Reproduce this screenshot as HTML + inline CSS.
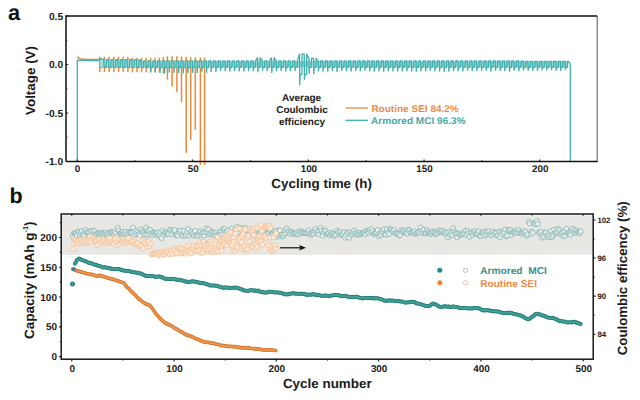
<!DOCTYPE html>
<html><head><meta charset="utf-8"><style>
html,body{margin:0;padding:0;background:#fff;width:640px;height:400px;overflow:hidden}
svg{display:block;text-rendering:geometricPrecision}
</style></head><body>
<svg width="640" height="400" viewBox="0 0 640 400"><path d="M77.3,56.6 L78.3,57.62 L79.3,58.27 L80.3,58.68 L81.3,58.95 L82.3,59.11 L83.3,59.22 L84.3,59.28 L85.3,59.33 L99.2,59.6 L99.75,61.3 L99.75,56.7 L99.75,72 L99.75,67.6 L102.08,67.6 L102.08,61.3 L104.4,61.3 L104.4,56.7 L104.4,72 L104.4,67.6 L106.75,67.6 L106.75,61.3 L109.1,61.3 L109.1,56.7 L109.1,72 L109.1,67.6 L111.45,67.6 L111.45,61.3 L113.8,61.3 L113.8,56.7 L113.8,72 L113.8,67.6 L116.15,67.6 L116.15,61.3 L118.5,61.3 L118.5,56.7 L118.5,72 L118.5,67.6 L120.85,67.6 L120.85,61.3 L123.2,61.3 L123.2,56.7 L123.2,72 L123.2,67.6 L125.55,67.6 L125.55,61.3 L127.9,61.3 L127.9,56.7 L127.9,72 L127.9,67.6 L130.15,67.6 L130.15,61.3 L132.4,61.3 L132.4,57.8 L132.4,72.3 L132.4,67.6 L134.7,67.6 L134.7,61.3 L137,61.3 L137,57.8 L137,72.3 L137,67.6 L139.3,67.6 L139.3,61.3 L141.6,61.3 L141.6,57.8 L141.6,72.3 L141.6,67.6 L143.85,67.6 L143.85,61.3 L146.1,61.3 L146.1,57.8 L146.1,72.3 L146.1,67.6 L148.35,67.6 L148.35,61.3 L150.6,61.3 L150.6,57.8 L150.6,72.3 L150.6,67.6 L152.8,67.6 L152.8,61.3 L155,61.3 L155,57.8 L155,72.3 L155,67.6 L157.2,67.6 L157.2,61.3 L159.4,61.3 L159.4,57.8 L159.4,72.3 L159.4,67.6 L161.4,67.6 L161.4,61.3 L163.4,61.3 L163.4,57 L163.4,73.8 L163.4,67.6 L165.4,67.6 L165.4,61.3 L167.4,61.3 L167.4,56.3 L167.4,79.6 L167.4,67.6 L169.75,67.6 L169.75,61.3 L172.1,61.3 L172.1,56.3 L172.1,86.4 L172.1,67.6 L174.5,67.6 L174.5,61.3 L176.9,61.3 L176.9,56.3 L176.9,92 L176.9,67.6 L179.2,67.6 L179.2,61.3 L181.5,61.3 L181.5,56.5 L181.5,102 L181.5,67.6 L183.85,67.6 L183.85,61.3 L186.2,61.3 L186.2,56.8 L186.2,152.8 L186.2,67.6 L188.45,67.6 L188.45,61.3 L190.7,61.3 L190.7,57.3 L190.7,140 L190.7,67.6 L193,67.6 L193,61.3 L195.3,61.3 L195.3,57.3 L195.3,129.8 L195.3,67.6 L197.85,67.6 L197.85,61.3 L200.4,61.3 L200.4,57.5 L200.4,165 L200.4,67.6 L202.5,67.6 L202.5,61.3 L204.6,61.3 L204.6,57.5 L204.6,165 L204.6,67.6" fill="none" stroke="#E8893C" stroke-width="1.5" stroke-linejoin="bevel"/>
<rect x="100" y="60" width="40" height="7.2" fill="#A2DDDA"/>
<rect x="140" y="60.9" width="428" height="6.5" fill="#92D7D4"/>
<path d="M77.3,161 L77.3,60.1 L99.5,60.6 L100,58.3 L101.7,59 L103.83,59.6 L104.03,67.39 L104.43,67.3 L106.16,67.3 L106.36,59.6 L108.49,59.6 L108.69,67.18 L109.09,67.3 L110.82,67.3 L111.02,59.6 L113.15,59.6 L113.35,67.78 L113.75,67.3 L115.48,67.3 L115.68,59.6 L117.81,59.6 L118.01,67.09 L118.41,67.3 L120.14,67.3 L120.34,59.6 L122.47,59.6 L122.67,67.64 L123.07,67.3 L124.8,67.3 L125,59.6 L127.13,59.6 L127.33,67.44 L127.73,67.3 L129.46,67.3 L129.66,59.6 L131.79,59.6 L131.99,67.07 L132.39,67.3 L134.12,67.3 L134.32,59.6 L136.45,59.6 L136.65,67.61 L137.05,67.3 L138.78,67.3 L138.98,59.6 L141.11,60.9 L141.31,67.04 L141.71,67.3 L143.44,67.3 L143.64,60.9 L145.77,60.9 L145.97,67.52 L146.37,67.3 L148.1,67.3 L148.3,60.9 L150.43,60.9 L150.63,72.48 L151.03,67.3 L152.76,67.3 L152.96,60.9 L155.09,60.9 L155.29,72.51 L155.69,67.3 L157.42,67.3 L157.62,60.9 L159.75,60.9 L159.95,72.91 L160.35,67.3 L162.08,67.3 L162.28,60.9 L164.41,60.9 L164.61,73.39 L165.01,67.3 L166.74,67.3 L166.94,60.9 L169.07,60.9 L169.27,72.55 L169.67,67.3 L171.4,67.3 L171.6,60.9 L173.73,60.9 L173.93,72.67 L174.33,67.3 L176.06,67.3 L176.26,60.9 L178.39,60.9 L178.59,73.15 L178.99,67.3 L180.72,67.3 L180.92,60.9 L183.05,60.9 L183.25,73.54 L183.65,67.3 L185.38,67.3 L185.58,60.9 L187.71,60.9 L187.91,73.09 L188.31,67.3 L190.04,67.3 L190.24,60.9 L192.37,60.9 L192.57,72.88 L192.97,67.3 L194.7,67.3 L194.9,60.9 L197.03,60.9 L197.23,72.87 L197.63,67.3 L199.36,67.3 L199.56,60.9 L201.69,60.9 L201.89,71.76 L202.29,67.3 L204.02,67.3 L204.22,60.9 L206.35,60.9 L206.55,72.73 L206.95,67.3 L208.68,67.3 L208.88,60.9 L211.01,60.9 L211.21,72.05 L211.61,67.3 L213.34,67.3 L213.54,60.9 L215.67,60.9 L215.87,71.87 L216.27,67.3 L218,67.3 L218.2,60.9 L220.33,60.9 L220.53,70.84 L220.93,67.3 L222.66,67.3 L222.86,60.9 L224.99,60.9 L225.19,71.07 L225.59,67.3 L227.32,67.3 L227.52,60.9 L229.65,60.9 L229.85,71.68 L230.25,67.3 L231.98,67.3 L232.18,60.9 L234.31,60.9 L234.51,70.92 L234.91,67.3 L236.64,67.3 L236.84,60.9 L238.97,60.9 L239.17,71.4 L239.57,67.3 L241.3,67.3 L241.5,60.9 L243.63,60.9 L243.83,71.47 L244.23,67.3 L245.96,67.3 L246.16,60.9 L248.29,60.9 L248.49,71.15 L248.89,67.3 L250.62,67.3 L250.82,60.9 L252.95,60.9 L253.15,71.36 L253.55,67.3 L255.28,67.3 L255.48,60.9 L257.61,57.5 L257.81,72.28 L258.21,67.3 L259.94,67.3 L260.14,57.5 L262.27,60.9 L262.47,70.77 L262.87,67.3 L264.6,67.3 L264.8,60.9 L266.93,60.9 L267.13,70.95 L267.53,67.3 L269.26,67.3 L269.46,60.9 L271.59,57.5 L271.79,73.02 L272.19,67.3 L273.92,67.3 L274.12,57.5 L276.25,60.9 L276.45,71.21 L276.85,67.3 L278.58,67.3 L278.78,60.9 L280.91,60.9 L281.11,71.08 L281.51,67.3 L283.24,67.3 L283.44,60.9 L285.57,60.9 L285.77,71.4 L286.17,67.3 L287.9,67.3 L288.1,60.9 L290.23,60.9 L290.43,71.24 L290.83,67.3 L292.56,67.3 L292.76,60.9 L294.89,60.9 L295.09,71.06 L295.49,67.3 L297.22,67.3 L297.42,60.9 L299.55,53.8 L299.75,85.35 L300.15,74.5 L301.88,74.5 L302.08,53.8 L304.21,53.8 L304.41,79.64 L304.81,74.5 L306.54,74.5 L306.74,53.8 L308.87,58.5 L309.07,73.69 L309.47,67.3 L311.2,67.3 L311.4,58.5 L313.53,58.5 L313.73,74.09 L314.13,67.3 L315.86,67.3 L316.06,58.5 L318.19,60.9 L318.39,71.33 L318.79,67.3 L320.52,67.3 L320.72,60.9 L322.85,60.9 L323.05,71.75 L323.45,67.3 L325.18,67.3 L325.38,60.9 L327.51,60.9 L327.71,71.58 L328.11,67.3 L329.84,67.3 L330.04,60.9 L332.17,60.9 L332.37,71.05 L332.77,67.3 L334.5,67.3 L334.7,60.9 L336.83,60.9 L337.03,71.88 L337.43,67.3 L339.16,67.3 L339.36,60.9 L341.49,60.9 L341.69,70.84 L342.09,67.3 L343.82,67.3 L344.02,60.9 L346.15,60.9 L346.35,71.2 L346.75,67.3 L348.48,67.3 L348.68,60.9 L350.81,60.9 L351.01,71.61 L351.41,67.3 L353.14,67.3 L353.34,60.9 L355.47,60.9 L355.67,70.88 L356.07,67.3 L357.8,67.3 L358,60.9 L360.13,60.9 L360.33,71.29 L360.73,67.3 L362.46,67.3 L362.66,60.9 L364.79,60.9 L364.99,70.75 L365.39,67.3 L367.12,67.3 L367.32,60.9 L369.45,60.9 L369.65,71.5 L370.05,67.3 L371.78,67.3 L371.98,60.9 L374.11,60.9 L374.31,71.62 L374.71,67.3 L376.44,67.3 L376.64,60.9 L378.77,60.9 L378.97,71.39 L379.37,67.3 L381.1,67.3 L381.3,60.9 L383.43,60.9 L383.63,71.75 L384.03,67.3 L385.76,67.3 L385.96,60.9 L388.09,60.9 L388.29,71.08 L388.69,67.3 L390.42,67.3 L390.62,60.9 L392.75,60.9 L392.95,71.53 L393.35,67.3 L395.08,67.3 L395.28,60.9 L397.41,60.9 L397.61,71.41 L398.01,67.3 L399.74,67.3 L399.94,60.9 L402.07,60.9 L402.27,71.4 L402.67,67.3 L404.4,67.3 L404.6,60.9 L406.73,60.9 L406.93,71.25 L407.33,67.3 L409.06,67.3 L409.26,60.9 L411.39,60.9 L411.59,71.71 L411.99,67.3 L413.72,67.3 L413.92,60.9 L416.05,60.9 L416.25,71.83 L416.65,67.3 L418.38,67.3 L418.58,60.9 L420.71,60.9 L420.91,71.27 L421.31,67.3 L423.04,67.3 L423.24,60.9 L425.37,60.9 L425.57,71.5 L425.97,67.3 L427.7,67.3 L427.9,60.9 L430.03,60.9 L430.23,70.77 L430.63,67.3 L432.36,67.3 L432.56,60.9 L434.69,60.9 L434.89,71.54 L435.29,67.3 L437.02,67.3 L437.22,60.9 L439.35,60.9 L439.55,71.48 L439.95,67.3 L441.68,67.3 L441.88,60.9 L444.01,60.9 L444.21,71.89 L444.61,67.3 L446.34,67.3 L446.54,60.9 L448.67,60.9 L448.87,71.69 L449.27,67.3 L451,67.3 L451.2,60.9 L453.33,60.9 L453.53,71.04 L453.93,67.3 L455.66,67.3 L455.86,60.9 L457.99,60.9 L458.19,71.16 L458.59,67.3 L460.32,67.3 L460.52,60.9 L462.65,60.9 L462.85,71.5 L463.25,67.3 L464.98,67.3 L465.18,60.9 L467.31,60.9 L467.51,70.73 L467.91,67.3 L469.64,67.3 L469.84,60.9 L471.97,60.9 L472.17,71.25 L472.57,67.3 L474.3,67.3 L474.5,60.9 L476.63,60.9 L476.83,70.9 L477.23,67.3 L478.96,67.3 L479.16,60.9 L481.29,60.9 L481.49,70.84 L481.89,67.3 L483.62,67.3 L483.82,60.9 L485.95,60.9 L486.15,70.77 L486.55,67.3 L488.28,67.3 L488.48,60.9 L490.61,60.9 L490.81,71.62 L491.21,67.3 L492.94,67.3 L493.14,60.9 L495.27,60.9 L495.47,70.86 L495.87,67.3 L497.6,67.3 L497.8,60.9 L499.93,60.9 L500.13,71 L500.53,67.3 L502.26,67.3 L502.46,60.9 L504.59,60.9 L504.79,71.17 L505.19,67.3 L506.92,67.3 L507.12,60.9 L509.25,60.9 L509.45,71.75 L509.85,67.3 L511.58,67.3 L511.78,60.9 L513.91,60.9 L514.11,70.8 L514.51,67.3 L516.24,67.3 L516.44,60.9 L518.57,60.9 L518.77,71.24 L519.17,67.3 L520.9,67.3 L521.1,60.9 L523.23,61.3 L523.43,70.46 L523.83,67.3 L525.56,67.3 L525.76,61.3 L527.89,61.3 L528.09,70.86 L528.49,67.3 L530.22,67.3 L530.42,61.3 L532.55,61.3 L532.75,70.78 L533.15,67.3 L534.88,67.3 L535.08,61.3 L537.21,61.3 L537.41,70.84 L537.81,67.3 L539.54,67.3 L539.74,61.3 L541.87,61.3 L542.07,70.13 L542.47,67.3 L544.2,67.3 L544.4,61.3 L546.53,61.3 L546.73,70.3 L547.13,67.3 L548.86,67.3 L549.06,61.3 L551.19,61.3 L551.39,70.23 L551.79,67.3 L553.52,67.3 L553.72,61.3 L555.85,61.3 L556.05,70.86 L556.45,67.3 L558.18,67.3 L558.38,61.3 L560.51,61.3 L560.71,70.95 L561.11,67.3 L562.84,67.3 L563.04,61.3 L565.17,61.3 L565.37,69.98 L565.77,67.3 L567.5,67.3 L567.7,61.3 L568.4,61.6 Q570.3,62.3 570.3,66 L570.3,161" fill="none" stroke="#40B0AE" stroke-width="1.3" stroke-linejoin="bevel"/>
<path d="M597.2,15.9 V161.6" stroke="#666" stroke-width="1.1"/>
<path d="M66.0,161.6 V15.9 H597.2 M66.0,161.6 H597.7" fill="none" stroke="#111" stroke-width="1.5"/>
<path d="M77.1,161.6 v-2.2 M192.75,161.6 v-2.2 M308.4,161.6 v-2.2 M424.05,161.6 v-2.2 M539.7,161.6 v-2.2 M134.93,161.6 v-1.3 M250.58,161.6 v-1.3 M366.23,161.6 v-1.3 M481.88,161.6 v-1.3 M66.0,16 h2.2 M66.0,64.5 h2.2 M66.0,113 h2.2 M66.0,161.5 h2.2 M66.0,40.25 h1.3 M66.0,88.75 h1.3 M66.0,137.25 h1.3" stroke="#1a1a1a" stroke-width="1.1"/>
<text x="63.1" y="19.5" font-family="Liberation Sans" font-weight="bold" font-size="10.2" text-anchor="end" fill="#1a1a1a">0.5</text>
<text x="63.1" y="68" font-family="Liberation Sans" font-weight="bold" font-size="10.2" text-anchor="end" fill="#1a1a1a">0.0</text>
<text x="63.1" y="116.5" font-family="Liberation Sans" font-weight="bold" font-size="10.2" text-anchor="end" fill="#1a1a1a">-0.5</text>
<text x="63.1" y="165" font-family="Liberation Sans" font-weight="bold" font-size="10.2" text-anchor="end" fill="#1a1a1a">-1.0</text>
<text x="77.6" y="172.1" font-family="Liberation Sans" font-weight="bold" font-size="9.8" text-anchor="middle" fill="#1a1a1a">0</text>
<text x="193.25" y="172.1" font-family="Liberation Sans" font-weight="bold" font-size="9.8" text-anchor="middle" fill="#1a1a1a">50</text>
<text x="308.9" y="172.1" font-family="Liberation Sans" font-weight="bold" font-size="9.8" text-anchor="middle" fill="#1a1a1a">100</text>
<text x="424.55" y="172.1" font-family="Liberation Sans" font-weight="bold" font-size="9.8" text-anchor="middle" fill="#1a1a1a">150</text>
<text x="540.2" y="172.1" font-family="Liberation Sans" font-weight="bold" font-size="9.8" text-anchor="middle" fill="#1a1a1a">200</text>
<text x="271.3" y="188" font-family="Liberation Sans" font-weight="bold" font-size="13.2" textLength="100.6" lengthAdjust="spacingAndGlyphs" fill="#1a1a1a">Cycling time (h)</text>
<text transform="translate(35,115) rotate(-90)" x="0" y="0" font-family="Liberation Sans" font-weight="bold" font-size="13.2" textLength="69" lengthAdjust="spacingAndGlyphs" fill="#1a1a1a">Voltage (V)</text>
<text x="8.0" y="19.8" font-family="Liberation Sans" font-weight="bold" font-size="21.8" fill="#111">a</text>
<text font-family="Liberation Sans" font-weight="bold" font-size="10" text-anchor="middle" fill="#1a1a1a"><tspan x="301.6" y="101.3">Average</tspan><tspan x="302" y="113.4">Coulombic</tspan><tspan x="302" y="125.2">efficiency</tspan></text>
<path d="M345.6,108 H368" stroke="#E8893C" stroke-width="1.3"/>
<path d="M345.6,120.3 H368" stroke="#3DB1B1" stroke-width="1.3"/>
<text x="371.4" y="111.5" font-family="Liberation Sans" font-weight="bold" font-size="9.7" textLength="87.4" lengthAdjust="spacingAndGlyphs" fill="#E98C48">Routine SEI 84.2%</text>
<text x="371.1" y="123.8" font-family="Liberation Sans" font-weight="bold" font-size="9.7" textLength="94.5" lengthAdjust="spacingAndGlyphs" fill="#45A9A7">Armored MCI 96.3%</text>
<rect x="61.800000000000004" y="215.4" width="530.8" height="39.40000000000001" fill="#E8E7E3"/>
<g fill="#E6F1EF" stroke="#84B0AE" stroke-width="0.75"><circle cx="72.77" cy="236.4" r="2.5"/><circle cx="73.79" cy="233.42" r="2.5"/><circle cx="74.81" cy="234.03" r="2.5"/><circle cx="75.83" cy="233.03" r="2.5"/><circle cx="76.85" cy="234.98" r="2.5"/><circle cx="77.87" cy="231.54" r="2.5"/><circle cx="78.89" cy="232.01" r="2.5"/><circle cx="79.91" cy="234.78" r="2.5"/><circle cx="80.93" cy="232.85" r="2.5"/><circle cx="81.95" cy="231.13" r="2.5"/><circle cx="82.97" cy="234.6" r="2.5"/><circle cx="83.99" cy="235.58" r="2.5"/><circle cx="85.01" cy="231.95" r="2.5"/><circle cx="86.03" cy="230.18" r="2.5"/><circle cx="87.05" cy="232.54" r="2.5"/><circle cx="88.07" cy="232.52" r="2.5"/><circle cx="89.09" cy="232.23" r="2.5"/><circle cx="90.11" cy="235.47" r="2.5"/><circle cx="91.13" cy="230.85" r="2.5"/><circle cx="92.15" cy="235.2" r="2.5"/><circle cx="93.17" cy="230.39" r="2.5"/><circle cx="94.19" cy="231.3" r="2.5"/><circle cx="95.21" cy="234" r="2.5"/><circle cx="96.23" cy="234.94" r="2.5"/><circle cx="97.25" cy="234.43" r="2.5"/><circle cx="98.27" cy="233.46" r="2.5"/><circle cx="99.29" cy="233.07" r="2.5"/><circle cx="100.31" cy="233.09" r="2.5"/><circle cx="101.33" cy="233.89" r="2.5"/><circle cx="102.35" cy="232.47" r="2.5"/><circle cx="103.37" cy="233.33" r="2.5"/><circle cx="104.39" cy="233.89" r="2.5"/><circle cx="105.41" cy="232.8" r="2.5"/><circle cx="106.43" cy="234.25" r="2.5"/><circle cx="107.45" cy="233.88" r="2.5"/><circle cx="108.47" cy="236.62" r="2.5"/><circle cx="109.49" cy="233.42" r="2.5"/><circle cx="110.51" cy="231.99" r="2.5"/><circle cx="111.53" cy="232.09" r="2.5"/><circle cx="112.55" cy="232.78" r="2.5"/><circle cx="113.57" cy="234.56" r="2.5"/><circle cx="114.59" cy="232.16" r="2.5"/><circle cx="115.61" cy="233.53" r="2.5"/><circle cx="116.63" cy="236.29" r="2.5"/><circle cx="117.65" cy="227.93" r="2.5"/><circle cx="118.67" cy="230.66" r="2.5"/><circle cx="119.69" cy="233.26" r="2.5"/><circle cx="120.71" cy="233.56" r="2.5"/><circle cx="121.73" cy="233.25" r="2.5"/><circle cx="122.75" cy="231.98" r="2.5"/><circle cx="123.77" cy="234.04" r="2.5"/><circle cx="124.79" cy="233.34" r="2.5"/><circle cx="125.81" cy="231.81" r="2.5"/><circle cx="126.83" cy="237.42" r="2.5"/><circle cx="127.85" cy="233.47" r="2.5"/><circle cx="128.87" cy="231.75" r="2.5"/><circle cx="129.89" cy="232.61" r="2.5"/><circle cx="130.91" cy="232.37" r="2.5"/><circle cx="131.93" cy="232.68" r="2.5"/><circle cx="132.95" cy="227.62" r="2.5"/><circle cx="133.97" cy="231.87" r="2.5"/><circle cx="134.99" cy="234.72" r="2.5"/><circle cx="136.01" cy="230.58" r="2.5"/><circle cx="137.03" cy="232.67" r="2.5"/><circle cx="138.05" cy="234.61" r="2.5"/><circle cx="139.07" cy="234.43" r="2.5"/><circle cx="140.09" cy="235.63" r="2.5"/><circle cx="141.11" cy="229.57" r="2.5"/><circle cx="142.13" cy="232.13" r="2.5"/><circle cx="143.15" cy="232.15" r="2.5"/><circle cx="144.17" cy="233.98" r="2.5"/><circle cx="145.19" cy="234.87" r="2.5"/><circle cx="146.21" cy="227.7" r="2.5"/><circle cx="147.23" cy="234.87" r="2.5"/><circle cx="148.25" cy="230.05" r="2.5"/><circle cx="149.27" cy="234.1" r="2.5"/><circle cx="150.29" cy="229.96" r="2.5"/><circle cx="151.31" cy="233.13" r="2.5"/><circle cx="152.33" cy="235.07" r="2.5"/><circle cx="153.35" cy="232.52" r="2.5"/><circle cx="154.37" cy="233.16" r="2.5"/><circle cx="155.39" cy="234.31" r="2.5"/><circle cx="156.41" cy="233.07" r="2.5"/><circle cx="157.43" cy="232.63" r="2.5"/><circle cx="158.45" cy="235.71" r="2.5"/><circle cx="159.47" cy="234.79" r="2.5"/><circle cx="160.49" cy="232.24" r="2.5"/><circle cx="161.51" cy="238.02" r="2.5"/><circle cx="162.53" cy="230.62" r="2.5"/><circle cx="163.55" cy="234.54" r="2.5"/><circle cx="164.57" cy="232.3" r="2.5"/><circle cx="165.59" cy="233.05" r="2.5"/><circle cx="166.61" cy="234.14" r="2.5"/><circle cx="167.63" cy="233.22" r="2.5"/><circle cx="168.65" cy="234.01" r="2.5"/><circle cx="169.67" cy="229.9" r="2.5"/><circle cx="170.69" cy="229.93" r="2.5"/><circle cx="171.71" cy="233.97" r="2.5"/><circle cx="172.73" cy="230.97" r="2.5"/><circle cx="173.75" cy="230.85" r="2.5"/><circle cx="174.77" cy="230.01" r="2.5"/><circle cx="175.79" cy="235.21" r="2.5"/><circle cx="176.81" cy="234.22" r="2.5"/><circle cx="177.83" cy="235.6" r="2.5"/><circle cx="178.85" cy="231.02" r="2.5"/><circle cx="179.87" cy="232.8" r="2.5"/><circle cx="180.89" cy="230.63" r="2.5"/><circle cx="181.91" cy="234.26" r="2.5"/><circle cx="182.93" cy="235.82" r="2.5"/><circle cx="183.95" cy="231.11" r="2.5"/><circle cx="184.97" cy="235.76" r="2.5"/><circle cx="185.99" cy="234.68" r="2.5"/><circle cx="187.01" cy="232.46" r="2.5"/><circle cx="188.03" cy="229.05" r="2.5"/><circle cx="189.05" cy="235.47" r="2.5"/><circle cx="190.07" cy="232.62" r="2.5"/><circle cx="191.09" cy="231.65" r="2.5"/><circle cx="192.11" cy="233.56" r="2.5"/><circle cx="193.13" cy="233.58" r="2.5"/><circle cx="194.15" cy="235.65" r="2.5"/><circle cx="195.17" cy="230.86" r="2.5"/><circle cx="196.19" cy="234.96" r="2.5"/><circle cx="197.21" cy="235.63" r="2.5"/><circle cx="198.23" cy="235.56" r="2.5"/><circle cx="199.25" cy="232.46" r="2.5"/><circle cx="200.27" cy="231.39" r="2.5"/><circle cx="201.29" cy="234.74" r="2.5"/><circle cx="202.31" cy="233.02" r="2.5"/><circle cx="203.33" cy="233.04" r="2.5"/><circle cx="204.35" cy="235.51" r="2.5"/><circle cx="205.37" cy="232.3" r="2.5"/><circle cx="206.39" cy="228.44" r="2.5"/><circle cx="207.41" cy="232.06" r="2.5"/><circle cx="208.43" cy="229.28" r="2.5"/><circle cx="209.45" cy="234.36" r="2.5"/><circle cx="210.47" cy="233.4" r="2.5"/><circle cx="211.49" cy="231.64" r="2.5"/><circle cx="212.51" cy="232.78" r="2.5"/><circle cx="213.53" cy="234.38" r="2.5"/><circle cx="214.55" cy="232.95" r="2.5"/><circle cx="215.57" cy="235.32" r="2.5"/><circle cx="216.59" cy="232.68" r="2.5"/><circle cx="217.61" cy="234.78" r="2.5"/><circle cx="218.63" cy="235.63" r="2.5"/><circle cx="219.65" cy="235.86" r="2.5"/><circle cx="220.67" cy="231.52" r="2.5"/><circle cx="221.69" cy="234.47" r="2.5"/><circle cx="222.71" cy="229.24" r="2.5"/><circle cx="223.73" cy="230.74" r="2.5"/><circle cx="224.75" cy="229.07" r="2.5"/><circle cx="225.77" cy="231.86" r="2.5"/><circle cx="226.79" cy="231.47" r="2.5"/><circle cx="227.81" cy="230.8" r="2.5"/><circle cx="228.83" cy="235.11" r="2.5"/><circle cx="229.85" cy="232.73" r="2.5"/><circle cx="230.87" cy="233.38" r="2.5"/><circle cx="231.89" cy="228.52" r="2.5"/><circle cx="232.91" cy="231.21" r="2.5"/><circle cx="233.93" cy="232.28" r="2.5"/><circle cx="234.95" cy="233.32" r="2.5"/><circle cx="235.97" cy="233.6" r="2.5"/><circle cx="236.99" cy="227.06" r="2.5"/><circle cx="238.01" cy="232.06" r="2.5"/><circle cx="239.03" cy="229.28" r="2.5"/><circle cx="240.05" cy="227.88" r="2.5"/><circle cx="241.07" cy="229.69" r="2.5"/><circle cx="242.09" cy="228.72" r="2.5"/><circle cx="243.11" cy="231.4" r="2.5"/><circle cx="244.13" cy="229.27" r="2.5"/><circle cx="245.15" cy="227.71" r="2.5"/><circle cx="246.17" cy="230.6" r="2.5"/><circle cx="247.19" cy="232.18" r="2.5"/><circle cx="248.21" cy="234.29" r="2.5"/><circle cx="249.23" cy="234.55" r="2.5"/><circle cx="250.25" cy="233.78" r="2.5"/><circle cx="251.27" cy="229.27" r="2.5"/><circle cx="252.29" cy="233.81" r="2.5"/><circle cx="253.31" cy="234.01" r="2.5"/><circle cx="254.33" cy="229.21" r="2.5"/><circle cx="255.35" cy="234.92" r="2.5"/><circle cx="256.37" cy="236.13" r="2.5"/><circle cx="257.39" cy="232.47" r="2.5"/><circle cx="258.41" cy="232.07" r="2.5"/><circle cx="259.43" cy="232.1" r="2.5"/><circle cx="260.45" cy="233.31" r="2.5"/><circle cx="261.47" cy="229.8" r="2.5"/><circle cx="262.49" cy="232.54" r="2.5"/><circle cx="263.51" cy="230.63" r="2.5"/><circle cx="264.53" cy="234.47" r="2.5"/><circle cx="265.55" cy="234.99" r="2.5"/><circle cx="266.57" cy="227.87" r="2.5"/><circle cx="267.59" cy="235.41" r="2.5"/><circle cx="268.61" cy="232.5" r="2.5"/><circle cx="269.63" cy="229.68" r="2.5"/><circle cx="270.65" cy="234.28" r="2.5"/><circle cx="271.67" cy="232.59" r="2.5"/><circle cx="272.69" cy="232.99" r="2.5"/><circle cx="273.71" cy="231" r="2.5"/><circle cx="274.73" cy="231.51" r="2.5"/><circle cx="275.75" cy="230.95" r="2.5"/><circle cx="276.77" cy="236.83" r="2.5"/><circle cx="277.79" cy="234.77" r="2.5"/><circle cx="278.81" cy="230.53" r="2.5"/><circle cx="279.83" cy="230.24" r="2.5"/><circle cx="280.85" cy="236.04" r="2.5"/><circle cx="281.87" cy="234.68" r="2.5"/><circle cx="282.89" cy="236.26" r="2.5"/><circle cx="283.91" cy="234.34" r="2.5"/><circle cx="284.93" cy="231.14" r="2.5"/><circle cx="285.95" cy="233.3" r="2.5"/><circle cx="286.97" cy="228.7" r="2.5"/><circle cx="287.99" cy="231.38" r="2.5"/><circle cx="289.01" cy="232.69" r="2.5"/><circle cx="290.03" cy="233.79" r="2.5"/><circle cx="291.05" cy="231.42" r="2.5"/><circle cx="292.07" cy="232.56" r="2.5"/><circle cx="293.09" cy="233.67" r="2.5"/><circle cx="294.11" cy="233.52" r="2.5"/><circle cx="295.13" cy="234.01" r="2.5"/><circle cx="296.15" cy="233.2" r="2.5"/><circle cx="297.17" cy="232.18" r="2.5"/><circle cx="298.19" cy="234.3" r="2.5"/><circle cx="299.21" cy="232.89" r="2.5"/><circle cx="300.23" cy="231.23" r="2.5"/><circle cx="301.25" cy="231.61" r="2.5"/><circle cx="302.27" cy="232.8" r="2.5"/><circle cx="303.29" cy="232.59" r="2.5"/><circle cx="304.31" cy="233.1" r="2.5"/><circle cx="305.33" cy="232.8" r="2.5"/><circle cx="306.35" cy="233.13" r="2.5"/><circle cx="307.37" cy="232.54" r="2.5"/><circle cx="308.39" cy="230.41" r="2.5"/><circle cx="309.41" cy="233.6" r="2.5"/><circle cx="310.43" cy="234.8" r="2.5"/><circle cx="311.45" cy="233.63" r="2.5"/><circle cx="312.47" cy="232.44" r="2.5"/><circle cx="313.49" cy="233.65" r="2.5"/><circle cx="314.51" cy="230.97" r="2.5"/><circle cx="315.53" cy="229.2" r="2.5"/><circle cx="316.55" cy="232.91" r="2.5"/><circle cx="317.57" cy="231.03" r="2.5"/><circle cx="318.59" cy="234.21" r="2.5"/><circle cx="319.61" cy="230.74" r="2.5"/><circle cx="320.63" cy="227.81" r="2.5"/><circle cx="321.65" cy="230.82" r="2.5"/><circle cx="322.67" cy="235.8" r="2.5"/><circle cx="323.69" cy="232.07" r="2.5"/><circle cx="324.71" cy="230.2" r="2.5"/><circle cx="325.73" cy="231.35" r="2.5"/><circle cx="326.75" cy="233.79" r="2.5"/><circle cx="327.77" cy="233.74" r="2.5"/><circle cx="328.79" cy="233.14" r="2.5"/><circle cx="329.81" cy="235.62" r="2.5"/><circle cx="330.83" cy="234.14" r="2.5"/><circle cx="331.85" cy="232.76" r="2.5"/><circle cx="332.87" cy="233.93" r="2.5"/><circle cx="333.89" cy="235.94" r="2.5"/><circle cx="334.91" cy="234.65" r="2.5"/><circle cx="335.93" cy="234.75" r="2.5"/><circle cx="336.95" cy="230.74" r="2.5"/><circle cx="337.97" cy="232.52" r="2.5"/><circle cx="338.99" cy="234.19" r="2.5"/><circle cx="340.01" cy="232.24" r="2.5"/><circle cx="341.03" cy="234.83" r="2.5"/><circle cx="342.05" cy="233.93" r="2.5"/><circle cx="343.07" cy="234.53" r="2.5"/><circle cx="344.09" cy="232.4" r="2.5"/><circle cx="345.11" cy="237.64" r="2.5"/><circle cx="346.13" cy="235.16" r="2.5"/><circle cx="347.15" cy="232.39" r="2.5"/><circle cx="348.17" cy="232.97" r="2.5"/><circle cx="349.19" cy="237.73" r="2.5"/><circle cx="350.21" cy="232.15" r="2.5"/><circle cx="351.23" cy="234.46" r="2.5"/><circle cx="352.25" cy="234.66" r="2.5"/><circle cx="353.27" cy="232.81" r="2.5"/><circle cx="354.29" cy="230.58" r="2.5"/><circle cx="355.31" cy="233.16" r="2.5"/><circle cx="356.33" cy="233.48" r="2.5"/><circle cx="357.35" cy="234.95" r="2.5"/><circle cx="358.37" cy="234.29" r="2.5"/><circle cx="359.39" cy="232.85" r="2.5"/><circle cx="360.41" cy="234.42" r="2.5"/><circle cx="361.43" cy="233.83" r="2.5"/><circle cx="362.45" cy="233.19" r="2.5"/><circle cx="363.47" cy="232.9" r="2.5"/><circle cx="364.49" cy="232.34" r="2.5"/><circle cx="365.51" cy="234.1" r="2.5"/><circle cx="366.53" cy="230.8" r="2.5"/><circle cx="367.55" cy="231.61" r="2.5"/><circle cx="368.57" cy="232.81" r="2.5"/><circle cx="369.59" cy="230.02" r="2.5"/><circle cx="370.61" cy="231.97" r="2.5"/><circle cx="371.63" cy="228.98" r="2.5"/><circle cx="372.65" cy="231.5" r="2.5"/><circle cx="373.67" cy="233.88" r="2.5"/><circle cx="374.69" cy="233.88" r="2.5"/><circle cx="375.71" cy="232.7" r="2.5"/><circle cx="376.73" cy="232.36" r="2.5"/><circle cx="377.75" cy="230.11" r="2.5"/><circle cx="378.77" cy="236.27" r="2.5"/><circle cx="379.79" cy="233.78" r="2.5"/><circle cx="380.81" cy="234.88" r="2.5"/><circle cx="381.83" cy="231.12" r="2.5"/><circle cx="382.85" cy="232.45" r="2.5"/><circle cx="383.87" cy="229.34" r="2.5"/><circle cx="384.89" cy="234.28" r="2.5"/><circle cx="385.91" cy="234.58" r="2.5"/><circle cx="386.93" cy="229.19" r="2.5"/><circle cx="387.95" cy="232.7" r="2.5"/><circle cx="388.97" cy="234" r="2.5"/><circle cx="389.99" cy="229.45" r="2.5"/><circle cx="391.01" cy="229.33" r="2.5"/><circle cx="392.03" cy="230.78" r="2.5"/><circle cx="393.05" cy="231.6" r="2.5"/><circle cx="394.07" cy="230.13" r="2.5"/><circle cx="395.09" cy="232.86" r="2.5"/><circle cx="396.11" cy="233.27" r="2.5"/><circle cx="397.13" cy="234" r="2.5"/><circle cx="398.15" cy="234.13" r="2.5"/><circle cx="399.17" cy="235.66" r="2.5"/><circle cx="400.19" cy="235.01" r="2.5"/><circle cx="401.21" cy="230.31" r="2.5"/><circle cx="402.23" cy="231.84" r="2.5"/><circle cx="403.25" cy="230.79" r="2.5"/><circle cx="404.27" cy="230.75" r="2.5"/><circle cx="405.29" cy="232.65" r="2.5"/><circle cx="406.31" cy="232.81" r="2.5"/><circle cx="407.33" cy="233.73" r="2.5"/><circle cx="408.35" cy="229.78" r="2.5"/><circle cx="409.37" cy="230.45" r="2.5"/><circle cx="410.39" cy="232.76" r="2.5"/><circle cx="411.41" cy="232.42" r="2.5"/><circle cx="412.43" cy="232.21" r="2.5"/><circle cx="413.45" cy="232.68" r="2.5"/><circle cx="414.47" cy="231.36" r="2.5"/><circle cx="415.49" cy="234.13" r="2.5"/><circle cx="416.51" cy="233.47" r="2.5"/><circle cx="417.53" cy="232.63" r="2.5"/><circle cx="418.55" cy="231.52" r="2.5"/><circle cx="419.57" cy="232.47" r="2.5"/><circle cx="420.59" cy="227.63" r="2.5"/><circle cx="421.61" cy="230.94" r="2.5"/><circle cx="422.63" cy="232.87" r="2.5"/><circle cx="423.65" cy="229.94" r="2.5"/><circle cx="424.67" cy="233.18" r="2.5"/><circle cx="425.69" cy="233.08" r="2.5"/><circle cx="426.71" cy="230.18" r="2.5"/><circle cx="427.73" cy="232.32" r="2.5"/><circle cx="428.75" cy="232.2" r="2.5"/><circle cx="429.77" cy="233.67" r="2.5"/><circle cx="430.79" cy="233.96" r="2.5"/><circle cx="431.81" cy="232.73" r="2.5"/><circle cx="432.83" cy="231.18" r="2.5"/><circle cx="433.85" cy="232.53" r="2.5"/><circle cx="434.87" cy="232.68" r="2.5"/><circle cx="435.89" cy="234.2" r="2.5"/><circle cx="436.91" cy="233.36" r="2.5"/><circle cx="437.93" cy="231.43" r="2.5"/><circle cx="438.95" cy="230.23" r="2.5"/><circle cx="439.97" cy="232.09" r="2.5"/><circle cx="440.99" cy="231.39" r="2.5"/><circle cx="442.01" cy="230.69" r="2.5"/><circle cx="443.03" cy="232.58" r="2.5"/><circle cx="444.05" cy="231.87" r="2.5"/><circle cx="445.07" cy="233" r="2.5"/><circle cx="446.09" cy="233.79" r="2.5"/><circle cx="447.11" cy="232.02" r="2.5"/><circle cx="448.13" cy="237.22" r="2.5"/><circle cx="449.15" cy="232.19" r="2.5"/><circle cx="450.17" cy="234.89" r="2.5"/><circle cx="451.19" cy="233.03" r="2.5"/><circle cx="452.21" cy="234.92" r="2.5"/><circle cx="453.23" cy="228.29" r="2.5"/><circle cx="454.25" cy="231.37" r="2.5"/><circle cx="455.27" cy="233.27" r="2.5"/><circle cx="456.29" cy="233.94" r="2.5"/><circle cx="457.31" cy="237.24" r="2.5"/><circle cx="458.33" cy="233.41" r="2.5"/><circle cx="459.35" cy="235.23" r="2.5"/><circle cx="460.37" cy="234.26" r="2.5"/><circle cx="461.39" cy="234.6" r="2.5"/><circle cx="462.41" cy="233.77" r="2.5"/><circle cx="463.43" cy="232.5" r="2.5"/><circle cx="464.45" cy="233.77" r="2.5"/><circle cx="465.47" cy="230.75" r="2.5"/><circle cx="466.49" cy="235.04" r="2.5"/><circle cx="467.51" cy="230.87" r="2.5"/><circle cx="468.53" cy="233.27" r="2.5"/><circle cx="469.55" cy="236.83" r="2.5"/><circle cx="470.57" cy="232.38" r="2.5"/><circle cx="471.59" cy="232.84" r="2.5"/><circle cx="472.61" cy="235.01" r="2.5"/><circle cx="473.63" cy="232.85" r="2.5"/><circle cx="474.65" cy="231.27" r="2.5"/><circle cx="475.67" cy="233.29" r="2.5"/><circle cx="476.69" cy="233.91" r="2.5"/><circle cx="477.71" cy="234.15" r="2.5"/><circle cx="478.73" cy="231.33" r="2.5"/><circle cx="479.75" cy="236.13" r="2.5"/><circle cx="480.77" cy="235.97" r="2.5"/><circle cx="481.79" cy="232.83" r="2.5"/><circle cx="482.81" cy="233.31" r="2.5"/><circle cx="483.83" cy="231.99" r="2.5"/><circle cx="484.85" cy="235.49" r="2.5"/><circle cx="485.87" cy="231.46" r="2.5"/><circle cx="486.89" cy="234.08" r="2.5"/><circle cx="487.91" cy="231.89" r="2.5"/><circle cx="488.93" cy="231.48" r="2.5"/><circle cx="489.95" cy="234.17" r="2.5"/><circle cx="490.97" cy="235.33" r="2.5"/><circle cx="491.99" cy="232.78" r="2.5"/><circle cx="493.01" cy="231.51" r="2.5"/><circle cx="494.03" cy="234.34" r="2.5"/><circle cx="495.05" cy="232.71" r="2.5"/><circle cx="496.07" cy="233.39" r="2.5"/><circle cx="497.09" cy="235.69" r="2.5"/><circle cx="498.11" cy="234.95" r="2.5"/><circle cx="499.13" cy="231.81" r="2.5"/><circle cx="500.15" cy="237.14" r="2.5"/><circle cx="501.17" cy="232.81" r="2.5"/><circle cx="502.19" cy="234.29" r="2.5"/><circle cx="503.21" cy="231.57" r="2.5"/><circle cx="504.23" cy="232.72" r="2.5"/><circle cx="505.25" cy="229.48" r="2.5"/><circle cx="506.27" cy="236.19" r="2.5"/><circle cx="507.29" cy="235.39" r="2.5"/><circle cx="508.31" cy="230.49" r="2.5"/><circle cx="509.33" cy="229.94" r="2.5"/><circle cx="510.35" cy="229.72" r="2.5"/><circle cx="511.37" cy="235.03" r="2.5"/><circle cx="512.39" cy="231.93" r="2.5"/><circle cx="513.41" cy="232.68" r="2.5"/><circle cx="514.43" cy="232.21" r="2.5"/><circle cx="515.45" cy="232.57" r="2.5"/><circle cx="516.47" cy="230.73" r="2.5"/><circle cx="517.49" cy="232.85" r="2.5"/><circle cx="518.51" cy="230.07" r="2.5"/><circle cx="519.53" cy="232.66" r="2.5"/><circle cx="520.55" cy="233.39" r="2.5"/><circle cx="521.57" cy="233.69" r="2.5"/><circle cx="522.59" cy="232.36" r="2.5"/><circle cx="523.61" cy="231.08" r="2.5"/><circle cx="524.63" cy="233.1" r="2.5"/><circle cx="525.65" cy="231.88" r="2.5"/><circle cx="526.67" cy="235.78" r="2.5"/><circle cx="527.69" cy="234.26" r="2.5"/><circle cx="528.71" cy="221.5" r="2.5"/><circle cx="529.73" cy="223.58" r="2.5"/><circle cx="530.75" cy="233.9" r="2.5"/><circle cx="531.77" cy="231.46" r="2.5"/><circle cx="532.79" cy="232.82" r="2.5"/><circle cx="533.81" cy="223.27" r="2.5"/><circle cx="534.83" cy="223.79" r="2.5"/><circle cx="535.85" cy="224.23" r="2.5"/><circle cx="536.87" cy="221.27" r="2.5"/><circle cx="537.89" cy="224" r="2.5"/><circle cx="538.91" cy="232.44" r="2.5"/><circle cx="539.93" cy="233.38" r="2.5"/><circle cx="540.95" cy="231.94" r="2.5"/><circle cx="541.97" cy="237.7" r="2.5"/><circle cx="542.99" cy="234.38" r="2.5"/><circle cx="544.01" cy="236.9" r="2.5"/><circle cx="545.03" cy="232.7" r="2.5"/><circle cx="546.05" cy="232.55" r="2.5"/><circle cx="547.07" cy="235.62" r="2.5"/><circle cx="548.09" cy="236.78" r="2.5"/><circle cx="549.11" cy="235.32" r="2.5"/><circle cx="550.13" cy="237.22" r="2.5"/><circle cx="551.15" cy="230.86" r="2.5"/><circle cx="552.17" cy="236.87" r="2.5"/><circle cx="553.19" cy="235.04" r="2.5"/><circle cx="554.21" cy="229.66" r="2.5"/><circle cx="555.23" cy="233.28" r="2.5"/><circle cx="556.25" cy="232.87" r="2.5"/><circle cx="557.27" cy="231.78" r="2.5"/><circle cx="558.29" cy="228.89" r="2.5"/><circle cx="559.31" cy="230.31" r="2.5"/><circle cx="560.33" cy="233.22" r="2.5"/><circle cx="561.35" cy="234.69" r="2.5"/><circle cx="562.37" cy="232.8" r="2.5"/><circle cx="563.39" cy="235.98" r="2.5"/><circle cx="564.41" cy="231.22" r="2.5"/><circle cx="565.43" cy="235.93" r="2.5"/><circle cx="566.45" cy="228.79" r="2.5"/><circle cx="567.47" cy="232.81" r="2.5"/><circle cx="568.49" cy="233.71" r="2.5"/><circle cx="569.51" cy="234.11" r="2.5"/><circle cx="570.53" cy="234.71" r="2.5"/><circle cx="571.55" cy="230.93" r="2.5"/><circle cx="572.57" cy="228.68" r="2.5"/><circle cx="573.59" cy="232.32" r="2.5"/><circle cx="574.61" cy="230.1" r="2.5"/><circle cx="575.63" cy="233" r="2.5"/><circle cx="576.65" cy="230.71" r="2.5"/><circle cx="577.67" cy="232.29" r="2.5"/><circle cx="578.69" cy="232.63" r="2.5"/><circle cx="579.71" cy="233.08" r="2.5"/><circle cx="580.73" cy="231.45" r="2.5"/></g>
<g fill="#FCE9D7" stroke="#F0C098" stroke-width="0.75"><circle cx="72.77" cy="249.5" r="2.5"/><circle cx="73.79" cy="243.07" r="2.5"/><circle cx="74.81" cy="239.55" r="2.5"/><circle cx="75.83" cy="240.49" r="2.5"/><circle cx="76.85" cy="241.69" r="2.5"/><circle cx="77.87" cy="240.77" r="2.5"/><circle cx="78.89" cy="243.36" r="2.5"/><circle cx="79.91" cy="240.52" r="2.5"/><circle cx="80.93" cy="239.97" r="2.5"/><circle cx="81.95" cy="242.78" r="2.5"/><circle cx="82.97" cy="241.74" r="2.5"/><circle cx="83.99" cy="239.25" r="2.5"/><circle cx="85.01" cy="239.91" r="2.5"/><circle cx="86.03" cy="241.2" r="2.5"/><circle cx="87.05" cy="243.21" r="2.5"/><circle cx="88.07" cy="242.32" r="2.5"/><circle cx="89.09" cy="240.9" r="2.5"/><circle cx="90.11" cy="236.39" r="2.5"/><circle cx="91.13" cy="241.91" r="2.5"/><circle cx="92.15" cy="238.5" r="2.5"/><circle cx="93.17" cy="237.86" r="2.5"/><circle cx="94.19" cy="239.5" r="2.5"/><circle cx="95.21" cy="241" r="2.5"/><circle cx="96.23" cy="240.88" r="2.5"/><circle cx="97.25" cy="245.38" r="2.5"/><circle cx="98.27" cy="240.37" r="2.5"/><circle cx="99.29" cy="239.32" r="2.5"/><circle cx="100.31" cy="242.89" r="2.5"/><circle cx="101.33" cy="241.09" r="2.5"/><circle cx="102.35" cy="239.94" r="2.5"/><circle cx="103.37" cy="239.13" r="2.5"/><circle cx="104.39" cy="240.68" r="2.5"/><circle cx="105.41" cy="243.47" r="2.5"/><circle cx="106.43" cy="241.95" r="2.5"/><circle cx="107.45" cy="240.22" r="2.5"/><circle cx="108.47" cy="242.4" r="2.5"/><circle cx="109.49" cy="241.15" r="2.5"/><circle cx="110.51" cy="238.41" r="2.5"/><circle cx="111.53" cy="242.11" r="2.5"/><circle cx="112.55" cy="241.83" r="2.5"/><circle cx="113.57" cy="243.85" r="2.5"/><circle cx="114.59" cy="240.65" r="2.5"/><circle cx="115.61" cy="238.67" r="2.5"/><circle cx="116.63" cy="242.12" r="2.5"/><circle cx="117.65" cy="245.38" r="2.5"/><circle cx="118.67" cy="239.54" r="2.5"/><circle cx="119.69" cy="243.89" r="2.5"/><circle cx="120.71" cy="240.95" r="2.5"/><circle cx="121.73" cy="242.06" r="2.5"/><circle cx="122.75" cy="240.9" r="2.5"/><circle cx="123.77" cy="239.3" r="2.5"/><circle cx="124.79" cy="242.81" r="2.5"/><circle cx="125.81" cy="240.17" r="2.5"/><circle cx="126.83" cy="241.29" r="2.5"/><circle cx="127.85" cy="241.98" r="2.5"/><circle cx="128.87" cy="238.49" r="2.5"/><circle cx="129.89" cy="242.13" r="2.5"/><circle cx="130.91" cy="241.76" r="2.5"/><circle cx="131.93" cy="240.48" r="2.5"/><circle cx="132.95" cy="241.75" r="2.5"/><circle cx="133.97" cy="243.99" r="2.5"/><circle cx="134.99" cy="244.26" r="2.5"/><circle cx="136.01" cy="242.79" r="2.5"/><circle cx="137.03" cy="243.77" r="2.5"/><circle cx="138.05" cy="243.26" r="2.5"/><circle cx="139.07" cy="239.15" r="2.5"/><circle cx="140.09" cy="246.05" r="2.5"/><circle cx="141.11" cy="245.78" r="2.5"/><circle cx="142.13" cy="240.5" r="2.5"/><circle cx="143.15" cy="248.33" r="2.5"/><circle cx="144.17" cy="242.92" r="2.5"/><circle cx="145.19" cy="242.3" r="2.5"/><circle cx="146.21" cy="244.29" r="2.5"/><circle cx="147.23" cy="246.5" r="2.5"/><circle cx="148.25" cy="241.51" r="2.5"/><circle cx="149.27" cy="246.33" r="2.5"/><circle cx="150.29" cy="243.68" r="2.5"/><circle cx="151.31" cy="254.5" r="2.5"/><circle cx="152.33" cy="254.33" r="2.5"/><circle cx="153.35" cy="254.07" r="2.5"/><circle cx="154.37" cy="253.49" r="2.5"/><circle cx="155.39" cy="252.84" r="2.5"/><circle cx="156.41" cy="253.43" r="2.5"/><circle cx="157.43" cy="253.48" r="2.5"/><circle cx="158.45" cy="255.28" r="2.5"/><circle cx="159.47" cy="252.39" r="2.5"/><circle cx="160.49" cy="255.19" r="2.5"/><circle cx="161.51" cy="252.31" r="2.5"/><circle cx="162.53" cy="252.71" r="2.5"/><circle cx="163.55" cy="254.43" r="2.5"/><circle cx="164.57" cy="254.35" r="2.5"/><circle cx="165.59" cy="252.56" r="2.5"/><circle cx="166.61" cy="250.68" r="2.5"/><circle cx="167.63" cy="252.46" r="2.5"/><circle cx="168.65" cy="251.83" r="2.5"/><circle cx="169.67" cy="254.42" r="2.5"/><circle cx="170.69" cy="250.59" r="2.5"/><circle cx="171.71" cy="251.32" r="2.5"/><circle cx="172.73" cy="254.1" r="2.5"/><circle cx="173.75" cy="249.11" r="2.5"/><circle cx="174.77" cy="251.12" r="2.5"/><circle cx="175.79" cy="253.38" r="2.5"/><circle cx="176.81" cy="253.01" r="2.5"/><circle cx="177.83" cy="248.34" r="2.5"/><circle cx="178.85" cy="248.09" r="2.5"/><circle cx="179.87" cy="248.06" r="2.5"/><circle cx="180.89" cy="253.69" r="2.5"/><circle cx="181.91" cy="249" r="2.5"/><circle cx="182.93" cy="252.32" r="2.5"/><circle cx="183.95" cy="253.33" r="2.5"/><circle cx="184.97" cy="249.09" r="2.5"/><circle cx="185.47" cy="253.7" r="2.5"/><circle cx="185.99" cy="251.05" r="2.5"/><circle cx="186.49" cy="251.8" r="2.5"/><circle cx="187.01" cy="248.59" r="2.5"/><circle cx="187.51" cy="246.16" r="2.5"/><circle cx="188.03" cy="251.91" r="2.5"/><circle cx="189.05" cy="250.84" r="2.5"/><circle cx="190.07" cy="245.53" r="2.5"/><circle cx="190.57" cy="249.32" r="2.5"/><circle cx="191.09" cy="253.3" r="2.5"/><circle cx="192.11" cy="248.07" r="2.5"/><circle cx="192.61" cy="248.46" r="2.5"/><circle cx="193.13" cy="248.81" r="2.5"/><circle cx="194.15" cy="245.59" r="2.5"/><circle cx="195.17" cy="250.82" r="2.5"/><circle cx="196.19" cy="251.03" r="2.5"/><circle cx="197.21" cy="246.17" r="2.5"/><circle cx="197.71" cy="246.54" r="2.5"/><circle cx="198.23" cy="250.86" r="2.5"/><circle cx="198.73" cy="244.48" r="2.5"/><circle cx="199.25" cy="250.4" r="2.5"/><circle cx="199.75" cy="242.68" r="2.5"/><circle cx="200.27" cy="241.97" r="2.5"/><circle cx="200.77" cy="245.33" r="2.5"/><circle cx="201.29" cy="252.82" r="2.5"/><circle cx="202.31" cy="252.84" r="2.5"/><circle cx="202.81" cy="241.85" r="2.5"/><circle cx="203.33" cy="241.65" r="2.5"/><circle cx="203.83" cy="249.3" r="2.5"/><circle cx="204.35" cy="245.79" r="2.5"/><circle cx="204.85" cy="245.41" r="2.5"/><circle cx="205.37" cy="247.83" r="2.5"/><circle cx="206.39" cy="249.36" r="2.5"/><circle cx="207.41" cy="248.07" r="2.5"/><circle cx="207.91" cy="250.49" r="2.5"/><circle cx="208.43" cy="242.7" r="2.5"/><circle cx="208.93" cy="243.81" r="2.5"/><circle cx="209.45" cy="248.79" r="2.5"/><circle cx="209.95" cy="241.75" r="2.5"/><circle cx="210.47" cy="241.42" r="2.5"/><circle cx="210.97" cy="250.79" r="2.5"/><circle cx="211.49" cy="246.11" r="2.5"/><circle cx="211.99" cy="243.38" r="2.5"/><circle cx="212.51" cy="252.25" r="2.5"/><circle cx="213.01" cy="240.61" r="2.5"/><circle cx="213.53" cy="249.31" r="2.5"/><circle cx="214.55" cy="252.09" r="2.5"/><circle cx="215.05" cy="243.88" r="2.5"/><circle cx="215.57" cy="249.24" r="2.5"/><circle cx="216.59" cy="250.7" r="2.5"/><circle cx="217.09" cy="240.43" r="2.5"/><circle cx="217.61" cy="237.21" r="2.5"/><circle cx="218.11" cy="251.59" r="2.5"/><circle cx="218.63" cy="244.83" r="2.5"/><circle cx="219.65" cy="240.95" r="2.5"/><circle cx="220.67" cy="242.06" r="2.5"/><circle cx="221.17" cy="247.91" r="2.5"/><circle cx="221.69" cy="250.82" r="2.5"/><circle cx="222.19" cy="244.49" r="2.5"/><circle cx="222.71" cy="244.74" r="2.5"/><circle cx="223.21" cy="240.11" r="2.5"/><circle cx="223.73" cy="235.6" r="2.5"/><circle cx="224.23" cy="237.72" r="2.5"/><circle cx="224.75" cy="243.99" r="2.5"/><circle cx="225.77" cy="236.14" r="2.5"/><circle cx="226.27" cy="238.53" r="2.5"/><circle cx="226.79" cy="245.16" r="2.5"/><circle cx="227.29" cy="237.96" r="2.5"/><circle cx="227.81" cy="235.51" r="2.5"/><circle cx="228.83" cy="242.19" r="2.5"/><circle cx="229.33" cy="233.13" r="2.5"/><circle cx="229.85" cy="238.84" r="2.5"/><circle cx="230.35" cy="243.87" r="2.5"/><circle cx="230.87" cy="232.33" r="2.5"/><circle cx="231.37" cy="244.93" r="2.5"/><circle cx="231.89" cy="238.81" r="2.5"/><circle cx="232.39" cy="236.65" r="2.5"/><circle cx="232.91" cy="250.27" r="2.5"/><circle cx="233.41" cy="241.99" r="2.5"/><circle cx="233.93" cy="237.33" r="2.5"/><circle cx="234.43" cy="248.32" r="2.5"/><circle cx="234.95" cy="251.17" r="2.5"/><circle cx="235.45" cy="233.65" r="2.5"/><circle cx="235.97" cy="245.2" r="2.5"/><circle cx="236.47" cy="229.18" r="2.5"/><circle cx="236.99" cy="249.01" r="2.5"/><circle cx="237.49" cy="247.19" r="2.5"/><circle cx="238.01" cy="237.73" r="2.5"/><circle cx="239.03" cy="238.81" r="2.5"/><circle cx="239.53" cy="228.57" r="2.5"/><circle cx="240.05" cy="240.77" r="2.5"/><circle cx="241.07" cy="249.06" r="2.5"/><circle cx="241.57" cy="242.3" r="2.5"/><circle cx="242.09" cy="236.21" r="2.5"/><circle cx="242.59" cy="230.87" r="2.5"/><circle cx="243.11" cy="233.93" r="2.5"/><circle cx="243.61" cy="249.37" r="2.5"/><circle cx="244.13" cy="229.49" r="2.5"/><circle cx="244.63" cy="246.4" r="2.5"/><circle cx="245.15" cy="250.32" r="2.5"/><circle cx="245.65" cy="229.69" r="2.5"/><circle cx="246.17" cy="249.71" r="2.5"/><circle cx="247.19" cy="238.13" r="2.5"/><circle cx="247.69" cy="249.26" r="2.5"/><circle cx="248.21" cy="235.58" r="2.5"/><circle cx="249.23" cy="241.36" r="2.5"/><circle cx="250.25" cy="229.35" r="2.5"/><circle cx="251.27" cy="230.91" r="2.5"/><circle cx="251.77" cy="247.09" r="2.5"/><circle cx="252.29" cy="246.63" r="2.5"/><circle cx="252.79" cy="230.78" r="2.5"/><circle cx="253.31" cy="235.46" r="2.5"/><circle cx="253.81" cy="235.04" r="2.5"/><circle cx="254.33" cy="228.24" r="2.5"/><circle cx="254.83" cy="243.88" r="2.5"/><circle cx="255.35" cy="248.35" r="2.5"/><circle cx="255.85" cy="239.63" r="2.5"/><circle cx="256.37" cy="244.69" r="2.5"/><circle cx="256.87" cy="246.8" r="2.5"/><circle cx="257.39" cy="227.99" r="2.5"/><circle cx="257.89" cy="239.27" r="2.5"/><circle cx="258.41" cy="241.25" r="2.5"/><circle cx="258.91" cy="235.85" r="2.5"/><circle cx="259.43" cy="240.07" r="2.5"/><circle cx="259.93" cy="242.06" r="2.5"/><circle cx="260.45" cy="236.49" r="2.5"/><circle cx="260.95" cy="225.41" r="2.5"/><circle cx="261.47" cy="240.97" r="2.5"/><circle cx="261.97" cy="230.92" r="2.5"/><circle cx="262.49" cy="244.74" r="2.5"/><circle cx="263.51" cy="236.71" r="2.5"/><circle cx="264.01" cy="237.1" r="2.5"/><circle cx="264.53" cy="227.45" r="2.5"/><circle cx="265.03" cy="235.96" r="2.5"/><circle cx="265.55" cy="227.01" r="2.5"/><circle cx="266.05" cy="238.02" r="2.5"/><circle cx="266.57" cy="225.63" r="2.5"/><circle cx="267.59" cy="226.69" r="2.5"/><circle cx="268.61" cy="245.01" r="2.5"/><circle cx="269.11" cy="225.91" r="2.5"/><circle cx="269.63" cy="237.76" r="2.5"/><circle cx="270.13" cy="249.57" r="2.5"/><circle cx="270.65" cy="228" r="2.5"/><circle cx="271.67" cy="250.74" r="2.5"/><circle cx="272.69" cy="245.93" r="2.5"/><circle cx="273.19" cy="250.35" r="2.5"/><circle cx="273.71" cy="237.34" r="2.5"/><circle cx="274.73" cy="248.58" r="2.5"/><circle cx="275.23" cy="245.19" r="2.5"/><circle cx="275.75" cy="248.95" r="2.5"/><circle cx="276.25" cy="233.53" r="2.5"/></g>
<g fill="#D57830"><circle cx="72.77" cy="269.22" r="1.85"/><circle cx="73.79" cy="269.37" r="1.85"/><circle cx="74.81" cy="269.75" r="1.85"/><circle cx="75.83" cy="270.52" r="1.85"/><circle cx="76.85" cy="270.49" r="1.85"/><circle cx="77.87" cy="271.06" r="1.85"/><circle cx="78.89" cy="270.98" r="1.85"/><circle cx="79.91" cy="271.48" r="1.85"/><circle cx="80.93" cy="271.84" r="1.85"/><circle cx="81.95" cy="272.25" r="1.85"/><circle cx="82.97" cy="272.23" r="1.85"/><circle cx="83.99" cy="272.81" r="1.85"/><circle cx="85.01" cy="273.1" r="1.85"/><circle cx="86.03" cy="273.26" r="1.85"/><circle cx="87.05" cy="273.74" r="1.85"/><circle cx="88.07" cy="273.79" r="1.85"/><circle cx="89.09" cy="274.04" r="1.85"/><circle cx="90.11" cy="274.36" r="1.85"/><circle cx="91.13" cy="274.14" r="1.85"/><circle cx="92.15" cy="274.73" r="1.85"/><circle cx="93.17" cy="274.82" r="1.85"/><circle cx="94.19" cy="275.02" r="1.85"/><circle cx="95.21" cy="275.49" r="1.85"/><circle cx="96.23" cy="276" r="1.85"/><circle cx="97.25" cy="276.18" r="1.85"/><circle cx="98.27" cy="276.13" r="1.85"/><circle cx="99.29" cy="275.45" r="1.85"/><circle cx="100.31" cy="275.29" r="1.85"/><circle cx="101.33" cy="276.03" r="1.85"/><circle cx="102.35" cy="276.16" r="1.85"/><circle cx="103.37" cy="276.54" r="1.85"/><circle cx="104.39" cy="276.59" r="1.85"/><circle cx="105.41" cy="277.17" r="1.85"/><circle cx="106.43" cy="277.44" r="1.85"/><circle cx="107.45" cy="277.85" r="1.85"/><circle cx="108.47" cy="278.1" r="1.85"/><circle cx="109.49" cy="278.61" r="1.85"/><circle cx="110.51" cy="278.63" r="1.85"/><circle cx="111.53" cy="278.86" r="1.85"/><circle cx="112.55" cy="279.06" r="1.85"/><circle cx="113.57" cy="279.74" r="1.85"/><circle cx="114.59" cy="279.76" r="1.85"/><circle cx="115.61" cy="280.04" r="1.85"/><circle cx="116.63" cy="280.4" r="1.85"/><circle cx="117.65" cy="280.85" r="1.85"/><circle cx="118.67" cy="281.11" r="1.85"/><circle cx="119.69" cy="281.64" r="1.85"/><circle cx="120.71" cy="281.94" r="1.85"/><circle cx="121.73" cy="282.27" r="1.85"/><circle cx="122.75" cy="282.48" r="1.85"/><circle cx="123.77" cy="282.88" r="1.85"/><circle cx="124.79" cy="284.09" r="1.85"/><circle cx="125.81" cy="285.48" r="1.85"/><circle cx="126.83" cy="286.81" r="1.85"/><circle cx="127.85" cy="287.9" r="1.85"/><circle cx="128.87" cy="288.53" r="1.85"/><circle cx="129.89" cy="289.8" r="1.85"/><circle cx="130.91" cy="290.78" r="1.85"/><circle cx="131.93" cy="292.01" r="1.85"/><circle cx="132.95" cy="292.63" r="1.85"/><circle cx="133.97" cy="293.73" r="1.85"/><circle cx="134.99" cy="294.77" r="1.85"/><circle cx="136.01" cy="295.77" r="1.85"/><circle cx="137.03" cy="297" r="1.85"/><circle cx="138.05" cy="297.86" r="1.85"/><circle cx="139.07" cy="299.14" r="1.85"/><circle cx="140.09" cy="299.56" r="1.85"/><circle cx="141.11" cy="300.3" r="1.85"/><circle cx="142.13" cy="301.51" r="1.85"/><circle cx="143.15" cy="302.11" r="1.85"/><circle cx="144.17" cy="302.8" r="1.85"/><circle cx="145.19" cy="303.4" r="1.85"/><circle cx="146.21" cy="304.09" r="1.85"/><circle cx="147.23" cy="304.28" r="1.85"/><circle cx="148.25" cy="304.98" r="1.85"/><circle cx="149.27" cy="305.17" r="1.85"/><circle cx="150.29" cy="305.93" r="1.85"/><circle cx="151.31" cy="307.26" r="1.85"/><circle cx="152.33" cy="308.42" r="1.85"/><circle cx="153.35" cy="309.98" r="1.85"/><circle cx="154.37" cy="311.71" r="1.85"/><circle cx="155.39" cy="312.78" r="1.85"/><circle cx="156.41" cy="313.98" r="1.85"/><circle cx="157.43" cy="315.33" r="1.85"/><circle cx="158.45" cy="316.51" r="1.85"/><circle cx="159.47" cy="317.79" r="1.85"/><circle cx="160.49" cy="318.96" r="1.85"/><circle cx="161.51" cy="319.8" r="1.85"/><circle cx="162.53" cy="320.82" r="1.85"/><circle cx="163.55" cy="321.4" r="1.85"/><circle cx="164.57" cy="322.43" r="1.85"/><circle cx="165.59" cy="323.14" r="1.85"/><circle cx="166.61" cy="323.7" r="1.85"/><circle cx="167.63" cy="324.09" r="1.85"/><circle cx="168.65" cy="324.45" r="1.85"/><circle cx="169.67" cy="324.97" r="1.85"/><circle cx="170.69" cy="325.48" r="1.85"/><circle cx="171.71" cy="325.98" r="1.85"/><circle cx="172.73" cy="326.7" r="1.85"/><circle cx="173.75" cy="327.25" r="1.85"/><circle cx="174.77" cy="328.22" r="1.85"/><circle cx="175.79" cy="328.69" r="1.85"/><circle cx="176.81" cy="329.16" r="1.85"/><circle cx="177.83" cy="329.55" r="1.85"/><circle cx="178.85" cy="330.44" r="1.85"/><circle cx="179.87" cy="331" r="1.85"/><circle cx="180.89" cy="331.54" r="1.85"/><circle cx="181.91" cy="332.2" r="1.85"/><circle cx="182.93" cy="332.64" r="1.85"/><circle cx="183.95" cy="333.57" r="1.85"/><circle cx="184.97" cy="333.95" r="1.85"/><circle cx="185.99" cy="334.8" r="1.85"/><circle cx="187.01" cy="334.81" r="1.85"/><circle cx="188.03" cy="335.17" r="1.85"/><circle cx="189.05" cy="335.76" r="1.85"/><circle cx="190.07" cy="335.92" r="1.85"/><circle cx="191.09" cy="336.3" r="1.85"/><circle cx="192.11" cy="336.63" r="1.85"/><circle cx="193.13" cy="337.04" r="1.85"/><circle cx="194.15" cy="337.84" r="1.85"/><circle cx="195.17" cy="338.26" r="1.85"/><circle cx="196.19" cy="338.86" r="1.85"/><circle cx="197.21" cy="339.03" r="1.85"/><circle cx="198.23" cy="339.54" r="1.85"/><circle cx="199.25" cy="339.83" r="1.85"/><circle cx="200.27" cy="340.53" r="1.85"/><circle cx="201.29" cy="340.59" r="1.85"/><circle cx="202.31" cy="341.32" r="1.85"/><circle cx="203.33" cy="341.68" r="1.85"/><circle cx="204.35" cy="341.95" r="1.85"/><circle cx="205.37" cy="341.83" r="1.85"/><circle cx="206.39" cy="342.35" r="1.85"/><circle cx="207.41" cy="342.28" r="1.85"/><circle cx="208.43" cy="342.44" r="1.85"/><circle cx="209.45" cy="342.5" r="1.85"/><circle cx="210.47" cy="343" r="1.85"/><circle cx="211.49" cy="343.21" r="1.85"/><circle cx="212.51" cy="343.03" r="1.85"/><circle cx="213.53" cy="343.2" r="1.85"/><circle cx="214.55" cy="343.5" r="1.85"/><circle cx="215.57" cy="344.2" r="1.85"/><circle cx="216.59" cy="344.27" r="1.85"/><circle cx="217.61" cy="344.33" r="1.85"/><circle cx="218.63" cy="344.42" r="1.85"/><circle cx="219.65" cy="344.83" r="1.85"/><circle cx="220.67" cy="345.32" r="1.85"/><circle cx="221.69" cy="345.6" r="1.85"/><circle cx="222.71" cy="345.45" r="1.85"/><circle cx="223.73" cy="345.56" r="1.85"/><circle cx="224.75" cy="345.77" r="1.85"/><circle cx="225.77" cy="345.76" r="1.85"/><circle cx="226.79" cy="346.38" r="1.85"/><circle cx="227.81" cy="346.19" r="1.85"/><circle cx="228.83" cy="346.6" r="1.85"/><circle cx="229.85" cy="346.24" r="1.85"/><circle cx="230.87" cy="346.34" r="1.85"/><circle cx="231.89" cy="346.6" r="1.85"/><circle cx="232.91" cy="346.46" r="1.85"/><circle cx="233.93" cy="346.73" r="1.85"/><circle cx="234.95" cy="346.69" r="1.85"/><circle cx="235.97" cy="346.63" r="1.85"/><circle cx="236.99" cy="347.05" r="1.85"/><circle cx="238.01" cy="347.26" r="1.85"/><circle cx="239.03" cy="347.03" r="1.85"/><circle cx="240.05" cy="347.75" r="1.85"/><circle cx="241.07" cy="347.68" r="1.85"/><circle cx="242.09" cy="347.81" r="1.85"/><circle cx="243.11" cy="347.48" r="1.85"/><circle cx="244.13" cy="347.69" r="1.85"/><circle cx="245.15" cy="347.79" r="1.85"/><circle cx="246.17" cy="348.07" r="1.85"/><circle cx="247.19" cy="347.77" r="1.85"/><circle cx="248.21" cy="347.96" r="1.85"/><circle cx="249.23" cy="347.9" r="1.85"/><circle cx="250.25" cy="348.29" r="1.85"/><circle cx="251.27" cy="348.48" r="1.85"/><circle cx="252.29" cy="348.25" r="1.85"/><circle cx="253.31" cy="348.48" r="1.85"/><circle cx="254.33" cy="348.71" r="1.85"/><circle cx="255.35" cy="348.94" r="1.85"/><circle cx="256.37" cy="348.9" r="1.85"/><circle cx="257.39" cy="348.88" r="1.85"/><circle cx="258.41" cy="348.9" r="1.85"/><circle cx="259.43" cy="349.11" r="1.85"/><circle cx="260.45" cy="349.32" r="1.85"/><circle cx="261.47" cy="349.6" r="1.85"/><circle cx="262.49" cy="349.68" r="1.85"/><circle cx="263.51" cy="350.01" r="1.85"/><circle cx="264.53" cy="349.83" r="1.85"/><circle cx="265.55" cy="349.63" r="1.85"/><circle cx="266.57" cy="350.03" r="1.85"/><circle cx="267.59" cy="349.96" r="1.85"/><circle cx="268.61" cy="349.88" r="1.85"/><circle cx="269.63" cy="349.83" r="1.85"/><circle cx="270.65" cy="349.76" r="1.85"/><circle cx="271.67" cy="350.01" r="1.85"/><circle cx="272.69" cy="350.41" r="1.85"/><circle cx="273.71" cy="350.25" r="1.85"/><circle cx="274.73" cy="350.26" r="1.85"/><circle cx="275.75" cy="350.53" r="1.85"/></g>
<g fill="#F09A52"><circle cx="72.77" cy="269.22" r="0.85"/><circle cx="73.79" cy="269.37" r="0.85"/><circle cx="74.81" cy="269.75" r="0.85"/><circle cx="75.83" cy="270.52" r="0.85"/><circle cx="76.85" cy="270.49" r="0.85"/><circle cx="77.87" cy="271.06" r="0.85"/><circle cx="78.89" cy="270.98" r="0.85"/><circle cx="79.91" cy="271.48" r="0.85"/><circle cx="80.93" cy="271.84" r="0.85"/><circle cx="81.95" cy="272.25" r="0.85"/><circle cx="82.97" cy="272.23" r="0.85"/><circle cx="83.99" cy="272.81" r="0.85"/><circle cx="85.01" cy="273.1" r="0.85"/><circle cx="86.03" cy="273.26" r="0.85"/><circle cx="87.05" cy="273.74" r="0.85"/><circle cx="88.07" cy="273.79" r="0.85"/><circle cx="89.09" cy="274.04" r="0.85"/><circle cx="90.11" cy="274.36" r="0.85"/><circle cx="91.13" cy="274.14" r="0.85"/><circle cx="92.15" cy="274.73" r="0.85"/><circle cx="93.17" cy="274.82" r="0.85"/><circle cx="94.19" cy="275.02" r="0.85"/><circle cx="95.21" cy="275.49" r="0.85"/><circle cx="96.23" cy="276" r="0.85"/><circle cx="97.25" cy="276.18" r="0.85"/><circle cx="98.27" cy="276.13" r="0.85"/><circle cx="99.29" cy="275.45" r="0.85"/><circle cx="100.31" cy="275.29" r="0.85"/><circle cx="101.33" cy="276.03" r="0.85"/><circle cx="102.35" cy="276.16" r="0.85"/><circle cx="103.37" cy="276.54" r="0.85"/><circle cx="104.39" cy="276.59" r="0.85"/><circle cx="105.41" cy="277.17" r="0.85"/><circle cx="106.43" cy="277.44" r="0.85"/><circle cx="107.45" cy="277.85" r="0.85"/><circle cx="108.47" cy="278.1" r="0.85"/><circle cx="109.49" cy="278.61" r="0.85"/><circle cx="110.51" cy="278.63" r="0.85"/><circle cx="111.53" cy="278.86" r="0.85"/><circle cx="112.55" cy="279.06" r="0.85"/><circle cx="113.57" cy="279.74" r="0.85"/><circle cx="114.59" cy="279.76" r="0.85"/><circle cx="115.61" cy="280.04" r="0.85"/><circle cx="116.63" cy="280.4" r="0.85"/><circle cx="117.65" cy="280.85" r="0.85"/><circle cx="118.67" cy="281.11" r="0.85"/><circle cx="119.69" cy="281.64" r="0.85"/><circle cx="120.71" cy="281.94" r="0.85"/><circle cx="121.73" cy="282.27" r="0.85"/><circle cx="122.75" cy="282.48" r="0.85"/><circle cx="123.77" cy="282.88" r="0.85"/><circle cx="124.79" cy="284.09" r="0.85"/><circle cx="125.81" cy="285.48" r="0.85"/><circle cx="126.83" cy="286.81" r="0.85"/><circle cx="127.85" cy="287.9" r="0.85"/><circle cx="128.87" cy="288.53" r="0.85"/><circle cx="129.89" cy="289.8" r="0.85"/><circle cx="130.91" cy="290.78" r="0.85"/><circle cx="131.93" cy="292.01" r="0.85"/><circle cx="132.95" cy="292.63" r="0.85"/><circle cx="133.97" cy="293.73" r="0.85"/><circle cx="134.99" cy="294.77" r="0.85"/><circle cx="136.01" cy="295.77" r="0.85"/><circle cx="137.03" cy="297" r="0.85"/><circle cx="138.05" cy="297.86" r="0.85"/><circle cx="139.07" cy="299.14" r="0.85"/><circle cx="140.09" cy="299.56" r="0.85"/><circle cx="141.11" cy="300.3" r="0.85"/><circle cx="142.13" cy="301.51" r="0.85"/><circle cx="143.15" cy="302.11" r="0.85"/><circle cx="144.17" cy="302.8" r="0.85"/><circle cx="145.19" cy="303.4" r="0.85"/><circle cx="146.21" cy="304.09" r="0.85"/><circle cx="147.23" cy="304.28" r="0.85"/><circle cx="148.25" cy="304.98" r="0.85"/><circle cx="149.27" cy="305.17" r="0.85"/><circle cx="150.29" cy="305.93" r="0.85"/><circle cx="151.31" cy="307.26" r="0.85"/><circle cx="152.33" cy="308.42" r="0.85"/><circle cx="153.35" cy="309.98" r="0.85"/><circle cx="154.37" cy="311.71" r="0.85"/><circle cx="155.39" cy="312.78" r="0.85"/><circle cx="156.41" cy="313.98" r="0.85"/><circle cx="157.43" cy="315.33" r="0.85"/><circle cx="158.45" cy="316.51" r="0.85"/><circle cx="159.47" cy="317.79" r="0.85"/><circle cx="160.49" cy="318.96" r="0.85"/><circle cx="161.51" cy="319.8" r="0.85"/><circle cx="162.53" cy="320.82" r="0.85"/><circle cx="163.55" cy="321.4" r="0.85"/><circle cx="164.57" cy="322.43" r="0.85"/><circle cx="165.59" cy="323.14" r="0.85"/><circle cx="166.61" cy="323.7" r="0.85"/><circle cx="167.63" cy="324.09" r="0.85"/><circle cx="168.65" cy="324.45" r="0.85"/><circle cx="169.67" cy="324.97" r="0.85"/><circle cx="170.69" cy="325.48" r="0.85"/><circle cx="171.71" cy="325.98" r="0.85"/><circle cx="172.73" cy="326.7" r="0.85"/><circle cx="173.75" cy="327.25" r="0.85"/><circle cx="174.77" cy="328.22" r="0.85"/><circle cx="175.79" cy="328.69" r="0.85"/><circle cx="176.81" cy="329.16" r="0.85"/><circle cx="177.83" cy="329.55" r="0.85"/><circle cx="178.85" cy="330.44" r="0.85"/><circle cx="179.87" cy="331" r="0.85"/><circle cx="180.89" cy="331.54" r="0.85"/><circle cx="181.91" cy="332.2" r="0.85"/><circle cx="182.93" cy="332.64" r="0.85"/><circle cx="183.95" cy="333.57" r="0.85"/><circle cx="184.97" cy="333.95" r="0.85"/><circle cx="185.99" cy="334.8" r="0.85"/><circle cx="187.01" cy="334.81" r="0.85"/><circle cx="188.03" cy="335.17" r="0.85"/><circle cx="189.05" cy="335.76" r="0.85"/><circle cx="190.07" cy="335.92" r="0.85"/><circle cx="191.09" cy="336.3" r="0.85"/><circle cx="192.11" cy="336.63" r="0.85"/><circle cx="193.13" cy="337.04" r="0.85"/><circle cx="194.15" cy="337.84" r="0.85"/><circle cx="195.17" cy="338.26" r="0.85"/><circle cx="196.19" cy="338.86" r="0.85"/><circle cx="197.21" cy="339.03" r="0.85"/><circle cx="198.23" cy="339.54" r="0.85"/><circle cx="199.25" cy="339.83" r="0.85"/><circle cx="200.27" cy="340.53" r="0.85"/><circle cx="201.29" cy="340.59" r="0.85"/><circle cx="202.31" cy="341.32" r="0.85"/><circle cx="203.33" cy="341.68" r="0.85"/><circle cx="204.35" cy="341.95" r="0.85"/><circle cx="205.37" cy="341.83" r="0.85"/><circle cx="206.39" cy="342.35" r="0.85"/><circle cx="207.41" cy="342.28" r="0.85"/><circle cx="208.43" cy="342.44" r="0.85"/><circle cx="209.45" cy="342.5" r="0.85"/><circle cx="210.47" cy="343" r="0.85"/><circle cx="211.49" cy="343.21" r="0.85"/><circle cx="212.51" cy="343.03" r="0.85"/><circle cx="213.53" cy="343.2" r="0.85"/><circle cx="214.55" cy="343.5" r="0.85"/><circle cx="215.57" cy="344.2" r="0.85"/><circle cx="216.59" cy="344.27" r="0.85"/><circle cx="217.61" cy="344.33" r="0.85"/><circle cx="218.63" cy="344.42" r="0.85"/><circle cx="219.65" cy="344.83" r="0.85"/><circle cx="220.67" cy="345.32" r="0.85"/><circle cx="221.69" cy="345.6" r="0.85"/><circle cx="222.71" cy="345.45" r="0.85"/><circle cx="223.73" cy="345.56" r="0.85"/><circle cx="224.75" cy="345.77" r="0.85"/><circle cx="225.77" cy="345.76" r="0.85"/><circle cx="226.79" cy="346.38" r="0.85"/><circle cx="227.81" cy="346.19" r="0.85"/><circle cx="228.83" cy="346.6" r="0.85"/><circle cx="229.85" cy="346.24" r="0.85"/><circle cx="230.87" cy="346.34" r="0.85"/><circle cx="231.89" cy="346.6" r="0.85"/><circle cx="232.91" cy="346.46" r="0.85"/><circle cx="233.93" cy="346.73" r="0.85"/><circle cx="234.95" cy="346.69" r="0.85"/><circle cx="235.97" cy="346.63" r="0.85"/><circle cx="236.99" cy="347.05" r="0.85"/><circle cx="238.01" cy="347.26" r="0.85"/><circle cx="239.03" cy="347.03" r="0.85"/><circle cx="240.05" cy="347.75" r="0.85"/><circle cx="241.07" cy="347.68" r="0.85"/><circle cx="242.09" cy="347.81" r="0.85"/><circle cx="243.11" cy="347.48" r="0.85"/><circle cx="244.13" cy="347.69" r="0.85"/><circle cx="245.15" cy="347.79" r="0.85"/><circle cx="246.17" cy="348.07" r="0.85"/><circle cx="247.19" cy="347.77" r="0.85"/><circle cx="248.21" cy="347.96" r="0.85"/><circle cx="249.23" cy="347.9" r="0.85"/><circle cx="250.25" cy="348.29" r="0.85"/><circle cx="251.27" cy="348.48" r="0.85"/><circle cx="252.29" cy="348.25" r="0.85"/><circle cx="253.31" cy="348.48" r="0.85"/><circle cx="254.33" cy="348.71" r="0.85"/><circle cx="255.35" cy="348.94" r="0.85"/><circle cx="256.37" cy="348.9" r="0.85"/><circle cx="257.39" cy="348.88" r="0.85"/><circle cx="258.41" cy="348.9" r="0.85"/><circle cx="259.43" cy="349.11" r="0.85"/><circle cx="260.45" cy="349.32" r="0.85"/><circle cx="261.47" cy="349.6" r="0.85"/><circle cx="262.49" cy="349.68" r="0.85"/><circle cx="263.51" cy="350.01" r="0.85"/><circle cx="264.53" cy="349.83" r="0.85"/><circle cx="265.55" cy="349.63" r="0.85"/><circle cx="266.57" cy="350.03" r="0.85"/><circle cx="267.59" cy="349.96" r="0.85"/><circle cx="268.61" cy="349.88" r="0.85"/><circle cx="269.63" cy="349.83" r="0.85"/><circle cx="270.65" cy="349.76" r="0.85"/><circle cx="271.67" cy="350.01" r="0.85"/><circle cx="272.69" cy="350.41" r="0.85"/><circle cx="273.71" cy="350.25" r="0.85"/><circle cx="274.73" cy="350.26" r="0.85"/><circle cx="275.75" cy="350.53" r="0.85"/></g>
<circle cx="72.5" cy="284.1" r="2.5" fill="#2C827D"/><circle cx="72.2" cy="283.6" r="1.1" fill="#4FA9A3"/>
<g fill="#2A807B"><circle cx="73.79" cy="269.34" r="2.0"/><circle cx="74.81" cy="263.81" r="2.0"/><circle cx="75.83" cy="262.13" r="2.0"/><circle cx="76.85" cy="260.01" r="2.0"/><circle cx="77.87" cy="259.46" r="2.0"/><circle cx="78.89" cy="258.62" r="2.0"/><circle cx="79.91" cy="258.7" r="2.0"/><circle cx="80.93" cy="259.55" r="2.0"/><circle cx="81.95" cy="259.99" r="2.0"/><circle cx="82.97" cy="260.44" r="2.0"/><circle cx="83.99" cy="260.46" r="2.0"/><circle cx="85.01" cy="261.01" r="2.0"/><circle cx="86.03" cy="261.54" r="2.0"/><circle cx="87.05" cy="261.86" r="2.0"/><circle cx="88.07" cy="262.48" r="2.0"/><circle cx="89.09" cy="263.05" r="2.0"/><circle cx="90.11" cy="262.85" r="2.0"/><circle cx="91.13" cy="262.97" r="2.0"/><circle cx="92.15" cy="263.82" r="2.0"/><circle cx="93.17" cy="264.24" r="2.0"/><circle cx="94.19" cy="264.4" r="2.0"/><circle cx="95.21" cy="264.7" r="2.0"/><circle cx="96.23" cy="264.78" r="2.0"/><circle cx="97.25" cy="265.18" r="2.0"/><circle cx="98.27" cy="265.96" r="2.0"/><circle cx="99.29" cy="266.07" r="2.0"/><circle cx="100.31" cy="266.29" r="2.0"/><circle cx="101.33" cy="266.66" r="2.0"/><circle cx="102.35" cy="267.54" r="2.0"/><circle cx="103.37" cy="267.59" r="2.0"/><circle cx="104.39" cy="267.22" r="2.0"/><circle cx="105.41" cy="267.36" r="2.0"/><circle cx="106.43" cy="267.73" r="2.0"/><circle cx="107.45" cy="267.72" r="2.0"/><circle cx="108.47" cy="268.34" r="2.0"/><circle cx="109.49" cy="268.28" r="2.0"/><circle cx="110.51" cy="268.26" r="2.0"/><circle cx="111.53" cy="268.9" r="2.0"/><circle cx="112.55" cy="268.64" r="2.0"/><circle cx="113.57" cy="268.88" r="2.0"/><circle cx="114.59" cy="268.9" r="2.0"/><circle cx="115.61" cy="268.91" r="2.0"/><circle cx="116.63" cy="269.14" r="2.0"/><circle cx="117.65" cy="269.09" r="2.0"/><circle cx="118.67" cy="269.06" r="2.0"/><circle cx="119.69" cy="269.22" r="2.0"/><circle cx="120.71" cy="269.67" r="2.0"/><circle cx="121.73" cy="270.02" r="2.0"/><circle cx="122.75" cy="270.39" r="2.0"/><circle cx="123.77" cy="270.58" r="2.0"/><circle cx="124.79" cy="270.83" r="2.0"/><circle cx="125.81" cy="270.86" r="2.0"/><circle cx="126.83" cy="270.79" r="2.0"/><circle cx="127.85" cy="270.93" r="2.0"/><circle cx="128.87" cy="270.78" r="2.0"/><circle cx="129.89" cy="271.34" r="2.0"/><circle cx="130.91" cy="271.64" r="2.0"/><circle cx="131.93" cy="271.92" r="2.0"/><circle cx="132.95" cy="272.06" r="2.0"/><circle cx="133.97" cy="272.25" r="2.0"/><circle cx="134.99" cy="272.61" r="2.0"/><circle cx="136.01" cy="272.52" r="2.0"/><circle cx="137.03" cy="272.7" r="2.0"/><circle cx="138.05" cy="272.77" r="2.0"/><circle cx="139.07" cy="272.91" r="2.0"/><circle cx="140.09" cy="273.49" r="2.0"/><circle cx="141.11" cy="273.58" r="2.0"/><circle cx="142.13" cy="274.14" r="2.0"/><circle cx="143.15" cy="274.57" r="2.0"/><circle cx="144.17" cy="275.01" r="2.0"/><circle cx="145.19" cy="275.8" r="2.0"/><circle cx="146.21" cy="276.04" r="2.0"/><circle cx="147.23" cy="275.78" r="2.0"/><circle cx="148.25" cy="275.89" r="2.0"/><circle cx="149.27" cy="276.02" r="2.0"/><circle cx="150.29" cy="276" r="2.0"/><circle cx="151.31" cy="276.2" r="2.0"/><circle cx="152.33" cy="275.88" r="2.0"/><circle cx="153.35" cy="276.19" r="2.0"/><circle cx="154.37" cy="276.58" r="2.0"/><circle cx="155.39" cy="276.9" r="2.0"/><circle cx="156.41" cy="276.69" r="2.0"/><circle cx="157.43" cy="276.5" r="2.0"/><circle cx="158.45" cy="276.61" r="2.0"/><circle cx="159.47" cy="276.6" r="2.0"/><circle cx="160.49" cy="276.7" r="2.0"/><circle cx="161.51" cy="277.43" r="2.0"/><circle cx="162.53" cy="277.36" r="2.0"/><circle cx="163.55" cy="277.88" r="2.0"/><circle cx="164.57" cy="278.7" r="2.0"/><circle cx="165.59" cy="278.82" r="2.0"/><circle cx="166.61" cy="278.86" r="2.0"/><circle cx="167.63" cy="278.75" r="2.0"/><circle cx="168.65" cy="278.93" r="2.0"/><circle cx="169.67" cy="279.09" r="2.0"/><circle cx="170.69" cy="278.81" r="2.0"/><circle cx="171.71" cy="278.93" r="2.0"/><circle cx="172.73" cy="278.77" r="2.0"/><circle cx="173.75" cy="279.03" r="2.0"/><circle cx="174.77" cy="279.14" r="2.0"/><circle cx="175.79" cy="279.53" r="2.0"/><circle cx="176.81" cy="279.96" r="2.0"/><circle cx="177.83" cy="279.61" r="2.0"/><circle cx="178.85" cy="280.01" r="2.0"/><circle cx="179.87" cy="280.16" r="2.0"/><circle cx="180.89" cy="280.09" r="2.0"/><circle cx="181.91" cy="280.3" r="2.0"/><circle cx="182.93" cy="280.75" r="2.0"/><circle cx="183.95" cy="281.29" r="2.0"/><circle cx="184.97" cy="281.36" r="2.0"/><circle cx="185.99" cy="281.64" r="2.0"/><circle cx="187.01" cy="281.52" r="2.0"/><circle cx="188.03" cy="282.36" r="2.0"/><circle cx="189.05" cy="281.99" r="2.0"/><circle cx="190.07" cy="281.85" r="2.0"/><circle cx="191.09" cy="281.49" r="2.0"/><circle cx="192.11" cy="281.55" r="2.0"/><circle cx="193.13" cy="281.25" r="2.0"/><circle cx="194.15" cy="281.49" r="2.0"/><circle cx="195.17" cy="281.7" r="2.0"/><circle cx="196.19" cy="281.85" r="2.0"/><circle cx="197.21" cy="282.18" r="2.0"/><circle cx="198.23" cy="282.24" r="2.0"/><circle cx="199.25" cy="282.95" r="2.0"/><circle cx="200.27" cy="282.72" r="2.0"/><circle cx="201.29" cy="282.64" r="2.0"/><circle cx="202.31" cy="283.09" r="2.0"/><circle cx="203.33" cy="283.13" r="2.0"/><circle cx="204.35" cy="283.3" r="2.0"/><circle cx="205.37" cy="283.71" r="2.0"/><circle cx="206.39" cy="284.18" r="2.0"/><circle cx="207.41" cy="284.23" r="2.0"/><circle cx="208.43" cy="284.74" r="2.0"/><circle cx="209.45" cy="285.35" r="2.0"/><circle cx="210.47" cy="285.43" r="2.0"/><circle cx="211.49" cy="285.38" r="2.0"/><circle cx="212.51" cy="285.49" r="2.0"/><circle cx="213.53" cy="285.49" r="2.0"/><circle cx="214.55" cy="285.6" r="2.0"/><circle cx="215.57" cy="285.81" r="2.0"/><circle cx="216.59" cy="285.83" r="2.0"/><circle cx="217.61" cy="285.66" r="2.0"/><circle cx="218.63" cy="286.49" r="2.0"/><circle cx="219.65" cy="286.68" r="2.0"/><circle cx="220.67" cy="287.29" r="2.0"/><circle cx="221.69" cy="287.26" r="2.0"/><circle cx="222.71" cy="287.55" r="2.0"/><circle cx="223.73" cy="288.02" r="2.0"/><circle cx="224.75" cy="287.41" r="2.0"/><circle cx="225.77" cy="287.46" r="2.0"/><circle cx="226.79" cy="287.51" r="2.0"/><circle cx="227.81" cy="287.45" r="2.0"/><circle cx="228.83" cy="287.69" r="2.0"/><circle cx="229.85" cy="288.26" r="2.0"/><circle cx="230.87" cy="288.12" r="2.0"/><circle cx="231.89" cy="287.84" r="2.0"/><circle cx="232.91" cy="287.81" r="2.0"/><circle cx="233.93" cy="288.06" r="2.0"/><circle cx="234.95" cy="287.62" r="2.0"/><circle cx="235.97" cy="287.6" r="2.0"/><circle cx="236.99" cy="287.76" r="2.0"/><circle cx="238.01" cy="288.12" r="2.0"/><circle cx="239.03" cy="288.53" r="2.0"/><circle cx="240.05" cy="288.72" r="2.0"/><circle cx="241.07" cy="289.01" r="2.0"/><circle cx="242.09" cy="289.53" r="2.0"/><circle cx="243.11" cy="290.28" r="2.0"/><circle cx="244.13" cy="290.53" r="2.0"/><circle cx="245.15" cy="290.4" r="2.0"/><circle cx="246.17" cy="290.73" r="2.0"/><circle cx="247.19" cy="290.86" r="2.0"/><circle cx="248.21" cy="291.01" r="2.0"/><circle cx="249.23" cy="290.61" r="2.0"/><circle cx="250.25" cy="290.21" r="2.0"/><circle cx="251.27" cy="290.13" r="2.0"/><circle cx="252.29" cy="289.88" r="2.0"/><circle cx="253.31" cy="290.65" r="2.0"/><circle cx="254.33" cy="290.64" r="2.0"/><circle cx="255.35" cy="290.37" r="2.0"/><circle cx="256.37" cy="290.95" r="2.0"/><circle cx="257.39" cy="290.94" r="2.0"/><circle cx="258.41" cy="290.57" r="2.0"/><circle cx="259.43" cy="291.62" r="2.0"/><circle cx="260.45" cy="291.63" r="2.0"/><circle cx="261.47" cy="292.18" r="2.0"/><circle cx="262.49" cy="291.83" r="2.0"/><circle cx="263.51" cy="292.45" r="2.0"/><circle cx="264.53" cy="292.59" r="2.0"/><circle cx="265.55" cy="292.58" r="2.0"/><circle cx="266.57" cy="292.5" r="2.0"/><circle cx="267.59" cy="292.53" r="2.0"/><circle cx="268.61" cy="291.86" r="2.0"/><circle cx="269.63" cy="291.8" r="2.0"/><circle cx="270.65" cy="291.73" r="2.0"/><circle cx="271.67" cy="291.95" r="2.0"/><circle cx="272.69" cy="292.05" r="2.0"/><circle cx="273.71" cy="292.37" r="2.0"/><circle cx="274.73" cy="292.47" r="2.0"/><circle cx="275.75" cy="292.49" r="2.0"/><circle cx="276.77" cy="292.37" r="2.0"/><circle cx="277.79" cy="292.42" r="2.0"/><circle cx="278.81" cy="292.72" r="2.0"/><circle cx="279.83" cy="292.77" r="2.0"/><circle cx="280.85" cy="292.82" r="2.0"/><circle cx="281.87" cy="293.01" r="2.0"/><circle cx="282.89" cy="293.73" r="2.0"/><circle cx="283.91" cy="293.65" r="2.0"/><circle cx="284.93" cy="294.2" r="2.0"/><circle cx="285.95" cy="294.49" r="2.0"/><circle cx="286.97" cy="294.25" r="2.0"/><circle cx="287.99" cy="294.38" r="2.0"/><circle cx="289.01" cy="293.81" r="2.0"/><circle cx="290.03" cy="294" r="2.0"/><circle cx="291.05" cy="293.62" r="2.0"/><circle cx="292.07" cy="293.13" r="2.0"/><circle cx="293.09" cy="293.55" r="2.0"/><circle cx="294.11" cy="293.29" r="2.0"/><circle cx="295.13" cy="293.83" r="2.0"/><circle cx="296.15" cy="293.54" r="2.0"/><circle cx="297.17" cy="293.71" r="2.0"/><circle cx="298.19" cy="293.82" r="2.0"/><circle cx="299.21" cy="293.67" r="2.0"/><circle cx="300.23" cy="293.75" r="2.0"/><circle cx="301.25" cy="293.6" r="2.0"/><circle cx="302.27" cy="293.92" r="2.0"/><circle cx="303.29" cy="293.94" r="2.0"/><circle cx="304.31" cy="294.21" r="2.0"/><circle cx="305.33" cy="293.88" r="2.0"/><circle cx="306.35" cy="294.91" r="2.0"/><circle cx="307.37" cy="294.84" r="2.0"/><circle cx="308.39" cy="294.51" r="2.0"/><circle cx="309.41" cy="294.8" r="2.0"/><circle cx="310.43" cy="294.71" r="2.0"/><circle cx="311.45" cy="294.63" r="2.0"/><circle cx="312.47" cy="294.05" r="2.0"/><circle cx="313.49" cy="294.52" r="2.0"/><circle cx="314.51" cy="294.23" r="2.0"/><circle cx="315.53" cy="294.92" r="2.0"/><circle cx="316.55" cy="294.66" r="2.0"/><circle cx="317.57" cy="295.09" r="2.0"/><circle cx="318.59" cy="295.11" r="2.0"/><circle cx="319.61" cy="295.12" r="2.0"/><circle cx="320.63" cy="295.65" r="2.0"/><circle cx="321.65" cy="295.64" r="2.0"/><circle cx="322.67" cy="295.78" r="2.0"/><circle cx="323.69" cy="295.68" r="2.0"/><circle cx="324.71" cy="295.48" r="2.0"/><circle cx="325.73" cy="295.39" r="2.0"/><circle cx="326.75" cy="295.76" r="2.0"/><circle cx="327.77" cy="295.86" r="2.0"/><circle cx="328.79" cy="295.86" r="2.0"/><circle cx="329.81" cy="296.07" r="2.0"/><circle cx="330.83" cy="295.83" r="2.0"/><circle cx="331.85" cy="295.45" r="2.0"/><circle cx="332.87" cy="295.26" r="2.0"/><circle cx="333.89" cy="294.95" r="2.0"/><circle cx="334.91" cy="294.89" r="2.0"/><circle cx="335.93" cy="294.99" r="2.0"/><circle cx="336.95" cy="295.17" r="2.0"/><circle cx="337.97" cy="295.08" r="2.0"/><circle cx="338.99" cy="295.19" r="2.0"/><circle cx="340.01" cy="296.04" r="2.0"/><circle cx="341.03" cy="295.97" r="2.0"/><circle cx="342.05" cy="296.28" r="2.0"/><circle cx="343.07" cy="295.75" r="2.0"/><circle cx="344.09" cy="296" r="2.0"/><circle cx="345.11" cy="296.12" r="2.0"/><circle cx="346.13" cy="295.94" r="2.0"/><circle cx="347.15" cy="296.29" r="2.0"/><circle cx="348.17" cy="296.75" r="2.0"/><circle cx="349.19" cy="297.03" r="2.0"/><circle cx="350.21" cy="297.31" r="2.0"/><circle cx="351.23" cy="296.92" r="2.0"/><circle cx="352.25" cy="296.82" r="2.0"/><circle cx="353.27" cy="297.13" r="2.0"/><circle cx="354.29" cy="297.11" r="2.0"/><circle cx="355.31" cy="296.88" r="2.0"/><circle cx="356.33" cy="296.59" r="2.0"/><circle cx="357.35" cy="297.12" r="2.0"/><circle cx="358.37" cy="297.37" r="2.0"/><circle cx="359.39" cy="297.66" r="2.0"/><circle cx="360.41" cy="297.78" r="2.0"/><circle cx="361.43" cy="298.22" r="2.0"/><circle cx="362.45" cy="298.5" r="2.0"/><circle cx="363.47" cy="298.31" r="2.0"/><circle cx="364.49" cy="298.02" r="2.0"/><circle cx="365.51" cy="298.34" r="2.0"/><circle cx="366.53" cy="298.23" r="2.0"/><circle cx="367.55" cy="298.02" r="2.0"/><circle cx="368.57" cy="298.15" r="2.0"/><circle cx="369.59" cy="297.87" r="2.0"/><circle cx="370.61" cy="298.04" r="2.0"/><circle cx="371.63" cy="298.08" r="2.0"/><circle cx="372.65" cy="298.3" r="2.0"/><circle cx="373.67" cy="298.51" r="2.0"/><circle cx="374.69" cy="298.08" r="2.0"/><circle cx="375.71" cy="298.46" r="2.0"/><circle cx="376.73" cy="298.3" r="2.0"/><circle cx="377.75" cy="298.21" r="2.0"/><circle cx="378.77" cy="298.39" r="2.0"/><circle cx="379.79" cy="298.97" r="2.0"/><circle cx="380.81" cy="299.01" r="2.0"/><circle cx="381.83" cy="299.49" r="2.0"/><circle cx="382.85" cy="299.74" r="2.0"/><circle cx="383.87" cy="300.4" r="2.0"/><circle cx="384.89" cy="300.79" r="2.0"/><circle cx="385.91" cy="300.71" r="2.0"/><circle cx="386.93" cy="300.67" r="2.0"/><circle cx="387.95" cy="300.47" r="2.0"/><circle cx="388.97" cy="300.48" r="2.0"/><circle cx="389.99" cy="300.15" r="2.0"/><circle cx="391.01" cy="300.72" r="2.0"/><circle cx="392.03" cy="300.57" r="2.0"/><circle cx="393.05" cy="300.6" r="2.0"/><circle cx="394.07" cy="300.81" r="2.0"/><circle cx="395.09" cy="300.9" r="2.0"/><circle cx="396.11" cy="301.29" r="2.0"/><circle cx="397.13" cy="301.33" r="2.0"/><circle cx="398.15" cy="300.85" r="2.0"/><circle cx="399.17" cy="301.35" r="2.0"/><circle cx="400.19" cy="301.46" r="2.0"/><circle cx="401.21" cy="301.39" r="2.0"/><circle cx="402.23" cy="301.51" r="2.0"/><circle cx="403.25" cy="302" r="2.0"/><circle cx="404.27" cy="302.3" r="2.0"/><circle cx="405.29" cy="302.67" r="2.0"/><circle cx="406.31" cy="302.59" r="2.0"/><circle cx="407.33" cy="302.18" r="2.0"/><circle cx="408.35" cy="302.47" r="2.0"/><circle cx="409.37" cy="301.9" r="2.0"/><circle cx="410.39" cy="302.19" r="2.0"/><circle cx="411.41" cy="301.65" r="2.0"/><circle cx="412.43" cy="301.75" r="2.0"/><circle cx="413.45" cy="301.82" r="2.0"/><circle cx="414.47" cy="302.08" r="2.0"/><circle cx="415.49" cy="302.9" r="2.0"/><circle cx="416.51" cy="303.23" r="2.0"/><circle cx="417.53" cy="303.55" r="2.0"/><circle cx="418.55" cy="303.81" r="2.0"/><circle cx="419.57" cy="303.7" r="2.0"/><circle cx="420.59" cy="304.17" r="2.0"/><circle cx="421.61" cy="304.43" r="2.0"/><circle cx="422.63" cy="304.66" r="2.0"/><circle cx="423.65" cy="305.33" r="2.0"/><circle cx="424.67" cy="305.49" r="2.0"/><circle cx="425.69" cy="305.88" r="2.0"/><circle cx="426.71" cy="306.12" r="2.0"/><circle cx="427.73" cy="306.03" r="2.0"/><circle cx="428.75" cy="306.16" r="2.0"/><circle cx="429.77" cy="305.8" r="2.0"/><circle cx="430.79" cy="305.01" r="2.0"/><circle cx="431.81" cy="304.23" r="2.0"/><circle cx="432.83" cy="303.42" r="2.0"/><circle cx="433.85" cy="303.65" r="2.0"/><circle cx="434.87" cy="304.19" r="2.0"/><circle cx="435.89" cy="304.58" r="2.0"/><circle cx="436.91" cy="305.33" r="2.0"/><circle cx="437.93" cy="306.06" r="2.0"/><circle cx="438.95" cy="306.57" r="2.0"/><circle cx="439.97" cy="306.77" r="2.0"/><circle cx="440.99" cy="307.33" r="2.0"/><circle cx="442.01" cy="307.09" r="2.0"/><circle cx="443.03" cy="306.45" r="2.0"/><circle cx="444.05" cy="306.55" r="2.0"/><circle cx="445.07" cy="306.28" r="2.0"/><circle cx="446.09" cy="306.52" r="2.0"/><circle cx="447.11" cy="306.66" r="2.0"/><circle cx="448.13" cy="306.53" r="2.0"/><circle cx="449.15" cy="306.45" r="2.0"/><circle cx="450.17" cy="307.13" r="2.0"/><circle cx="451.19" cy="306.86" r="2.0"/><circle cx="452.21" cy="306.95" r="2.0"/><circle cx="453.23" cy="306.26" r="2.0"/><circle cx="454.25" cy="306.68" r="2.0"/><circle cx="455.27" cy="306.94" r="2.0"/><circle cx="456.29" cy="307.11" r="2.0"/><circle cx="457.31" cy="306.95" r="2.0"/><circle cx="458.33" cy="307.4" r="2.0"/><circle cx="459.35" cy="307.65" r="2.0"/><circle cx="460.37" cy="308.15" r="2.0"/><circle cx="461.39" cy="308.32" r="2.0"/><circle cx="462.41" cy="308.2" r="2.0"/><circle cx="463.43" cy="307.89" r="2.0"/><circle cx="464.45" cy="308.25" r="2.0"/><circle cx="465.47" cy="307.96" r="2.0"/><circle cx="466.49" cy="308.17" r="2.0"/><circle cx="467.51" cy="308.16" r="2.0"/><circle cx="468.53" cy="308.52" r="2.0"/><circle cx="469.55" cy="308.51" r="2.0"/><circle cx="470.57" cy="308.24" r="2.0"/><circle cx="471.59" cy="308.38" r="2.0"/><circle cx="472.61" cy="308.57" r="2.0"/><circle cx="473.63" cy="307.99" r="2.0"/><circle cx="474.65" cy="308.07" r="2.0"/><circle cx="475.67" cy="308.17" r="2.0"/><circle cx="476.69" cy="308.26" r="2.0"/><circle cx="477.71" cy="308.32" r="2.0"/><circle cx="478.73" cy="308.28" r="2.0"/><circle cx="479.75" cy="308.69" r="2.0"/><circle cx="480.77" cy="309.38" r="2.0"/><circle cx="481.79" cy="309.74" r="2.0"/><circle cx="482.81" cy="310.45" r="2.0"/><circle cx="483.83" cy="309.97" r="2.0"/><circle cx="484.85" cy="310.46" r="2.0"/><circle cx="485.87" cy="310.42" r="2.0"/><circle cx="486.89" cy="309.95" r="2.0"/><circle cx="487.91" cy="310.19" r="2.0"/><circle cx="488.93" cy="310.52" r="2.0"/><circle cx="489.95" cy="310.58" r="2.0"/><circle cx="490.97" cy="310.86" r="2.0"/><circle cx="491.99" cy="311.18" r="2.0"/><circle cx="493.01" cy="311.08" r="2.0"/><circle cx="494.03" cy="311.41" r="2.0"/><circle cx="495.05" cy="311.23" r="2.0"/><circle cx="496.07" cy="311.26" r="2.0"/><circle cx="497.09" cy="311.54" r="2.0"/><circle cx="498.11" cy="311.45" r="2.0"/><circle cx="499.13" cy="311.83" r="2.0"/><circle cx="500.15" cy="312.36" r="2.0"/><circle cx="501.17" cy="312.38" r="2.0"/><circle cx="502.19" cy="312.67" r="2.0"/><circle cx="503.21" cy="313.11" r="2.0"/><circle cx="504.23" cy="313.05" r="2.0"/><circle cx="505.25" cy="313.37" r="2.0"/><circle cx="506.27" cy="312.81" r="2.0"/><circle cx="507.29" cy="313.04" r="2.0"/><circle cx="508.31" cy="312.67" r="2.0"/><circle cx="509.33" cy="312.52" r="2.0"/><circle cx="510.35" cy="313.04" r="2.0"/><circle cx="511.37" cy="312.73" r="2.0"/><circle cx="512.39" cy="313.54" r="2.0"/><circle cx="513.41" cy="313.65" r="2.0"/><circle cx="514.43" cy="314.12" r="2.0"/><circle cx="515.45" cy="313.9" r="2.0"/><circle cx="516.47" cy="314.56" r="2.0"/><circle cx="517.49" cy="314.79" r="2.0"/><circle cx="518.51" cy="314.67" r="2.0"/><circle cx="519.53" cy="314.91" r="2.0"/><circle cx="520.55" cy="315.75" r="2.0"/><circle cx="521.57" cy="315.7" r="2.0"/><circle cx="522.59" cy="316.2" r="2.0"/><circle cx="523.61" cy="316.91" r="2.0"/><circle cx="524.63" cy="317.8" r="2.0"/><circle cx="525.65" cy="318.34" r="2.0"/><circle cx="526.67" cy="318.74" r="2.0"/><circle cx="527.69" cy="319.35" r="2.0"/><circle cx="528.71" cy="319.16" r="2.0"/><circle cx="529.73" cy="318.74" r="2.0"/><circle cx="530.75" cy="318.07" r="2.0"/><circle cx="531.77" cy="316.82" r="2.0"/><circle cx="532.79" cy="316.58" r="2.0"/><circle cx="533.81" cy="315.88" r="2.0"/><circle cx="534.83" cy="314.45" r="2.0"/><circle cx="535.85" cy="313.71" r="2.0"/><circle cx="536.87" cy="313.71" r="2.0"/><circle cx="537.89" cy="313.82" r="2.0"/><circle cx="538.91" cy="314.5" r="2.0"/><circle cx="539.93" cy="314.24" r="2.0"/><circle cx="540.95" cy="314.93" r="2.0"/><circle cx="541.97" cy="315.4" r="2.0"/><circle cx="542.99" cy="315.13" r="2.0"/><circle cx="544.01" cy="315.88" r="2.0"/><circle cx="545.03" cy="316.08" r="2.0"/><circle cx="546.05" cy="317.1" r="2.0"/><circle cx="547.07" cy="317.19" r="2.0"/><circle cx="548.09" cy="317.57" r="2.0"/><circle cx="549.11" cy="317.81" r="2.0"/><circle cx="550.13" cy="318.02" r="2.0"/><circle cx="551.15" cy="317.86" r="2.0"/><circle cx="552.17" cy="318.01" r="2.0"/><circle cx="553.19" cy="318.07" r="2.0"/><circle cx="554.21" cy="318.51" r="2.0"/><circle cx="555.23" cy="318.68" r="2.0"/><circle cx="556.25" cy="319.42" r="2.0"/><circle cx="557.27" cy="319.53" r="2.0"/><circle cx="558.29" cy="320.27" r="2.0"/><circle cx="559.31" cy="321.13" r="2.0"/><circle cx="560.33" cy="321.04" r="2.0"/><circle cx="561.35" cy="320.99" r="2.0"/><circle cx="562.37" cy="321.47" r="2.0"/><circle cx="563.39" cy="321.42" r="2.0"/><circle cx="564.41" cy="321.49" r="2.0"/><circle cx="565.43" cy="321.82" r="2.0"/><circle cx="566.45" cy="322.3" r="2.0"/><circle cx="567.47" cy="322.39" r="2.0"/><circle cx="568.49" cy="322.4" r="2.0"/><circle cx="569.51" cy="322.26" r="2.0"/><circle cx="570.53" cy="322.16" r="2.0"/><circle cx="571.55" cy="322.52" r="2.0"/><circle cx="572.57" cy="322.16" r="2.0"/><circle cx="573.59" cy="321.84" r="2.0"/><circle cx="574.61" cy="321.64" r="2.0"/><circle cx="575.63" cy="321.97" r="2.0"/><circle cx="576.65" cy="323.04" r="2.0"/><circle cx="577.67" cy="322.72" r="2.0"/><circle cx="578.69" cy="323.36" r="2.0"/><circle cx="579.71" cy="323.81" r="2.0"/><circle cx="580.73" cy="324.04" r="2.0"/></g>
<g fill="#44A29C"><circle cx="73.79" cy="269.34" r="0.9"/><circle cx="74.81" cy="263.81" r="0.9"/><circle cx="75.83" cy="262.13" r="0.9"/><circle cx="76.85" cy="260.01" r="0.9"/><circle cx="77.87" cy="259.46" r="0.9"/><circle cx="78.89" cy="258.62" r="0.9"/><circle cx="79.91" cy="258.7" r="0.9"/><circle cx="80.93" cy="259.55" r="0.9"/><circle cx="81.95" cy="259.99" r="0.9"/><circle cx="82.97" cy="260.44" r="0.9"/><circle cx="83.99" cy="260.46" r="0.9"/><circle cx="85.01" cy="261.01" r="0.9"/><circle cx="86.03" cy="261.54" r="0.9"/><circle cx="87.05" cy="261.86" r="0.9"/><circle cx="88.07" cy="262.48" r="0.9"/><circle cx="89.09" cy="263.05" r="0.9"/><circle cx="90.11" cy="262.85" r="0.9"/><circle cx="91.13" cy="262.97" r="0.9"/><circle cx="92.15" cy="263.82" r="0.9"/><circle cx="93.17" cy="264.24" r="0.9"/><circle cx="94.19" cy="264.4" r="0.9"/><circle cx="95.21" cy="264.7" r="0.9"/><circle cx="96.23" cy="264.78" r="0.9"/><circle cx="97.25" cy="265.18" r="0.9"/><circle cx="98.27" cy="265.96" r="0.9"/><circle cx="99.29" cy="266.07" r="0.9"/><circle cx="100.31" cy="266.29" r="0.9"/><circle cx="101.33" cy="266.66" r="0.9"/><circle cx="102.35" cy="267.54" r="0.9"/><circle cx="103.37" cy="267.59" r="0.9"/><circle cx="104.39" cy="267.22" r="0.9"/><circle cx="105.41" cy="267.36" r="0.9"/><circle cx="106.43" cy="267.73" r="0.9"/><circle cx="107.45" cy="267.72" r="0.9"/><circle cx="108.47" cy="268.34" r="0.9"/><circle cx="109.49" cy="268.28" r="0.9"/><circle cx="110.51" cy="268.26" r="0.9"/><circle cx="111.53" cy="268.9" r="0.9"/><circle cx="112.55" cy="268.64" r="0.9"/><circle cx="113.57" cy="268.88" r="0.9"/><circle cx="114.59" cy="268.9" r="0.9"/><circle cx="115.61" cy="268.91" r="0.9"/><circle cx="116.63" cy="269.14" r="0.9"/><circle cx="117.65" cy="269.09" r="0.9"/><circle cx="118.67" cy="269.06" r="0.9"/><circle cx="119.69" cy="269.22" r="0.9"/><circle cx="120.71" cy="269.67" r="0.9"/><circle cx="121.73" cy="270.02" r="0.9"/><circle cx="122.75" cy="270.39" r="0.9"/><circle cx="123.77" cy="270.58" r="0.9"/><circle cx="124.79" cy="270.83" r="0.9"/><circle cx="125.81" cy="270.86" r="0.9"/><circle cx="126.83" cy="270.79" r="0.9"/><circle cx="127.85" cy="270.93" r="0.9"/><circle cx="128.87" cy="270.78" r="0.9"/><circle cx="129.89" cy="271.34" r="0.9"/><circle cx="130.91" cy="271.64" r="0.9"/><circle cx="131.93" cy="271.92" r="0.9"/><circle cx="132.95" cy="272.06" r="0.9"/><circle cx="133.97" cy="272.25" r="0.9"/><circle cx="134.99" cy="272.61" r="0.9"/><circle cx="136.01" cy="272.52" r="0.9"/><circle cx="137.03" cy="272.7" r="0.9"/><circle cx="138.05" cy="272.77" r="0.9"/><circle cx="139.07" cy="272.91" r="0.9"/><circle cx="140.09" cy="273.49" r="0.9"/><circle cx="141.11" cy="273.58" r="0.9"/><circle cx="142.13" cy="274.14" r="0.9"/><circle cx="143.15" cy="274.57" r="0.9"/><circle cx="144.17" cy="275.01" r="0.9"/><circle cx="145.19" cy="275.8" r="0.9"/><circle cx="146.21" cy="276.04" r="0.9"/><circle cx="147.23" cy="275.78" r="0.9"/><circle cx="148.25" cy="275.89" r="0.9"/><circle cx="149.27" cy="276.02" r="0.9"/><circle cx="150.29" cy="276" r="0.9"/><circle cx="151.31" cy="276.2" r="0.9"/><circle cx="152.33" cy="275.88" r="0.9"/><circle cx="153.35" cy="276.19" r="0.9"/><circle cx="154.37" cy="276.58" r="0.9"/><circle cx="155.39" cy="276.9" r="0.9"/><circle cx="156.41" cy="276.69" r="0.9"/><circle cx="157.43" cy="276.5" r="0.9"/><circle cx="158.45" cy="276.61" r="0.9"/><circle cx="159.47" cy="276.6" r="0.9"/><circle cx="160.49" cy="276.7" r="0.9"/><circle cx="161.51" cy="277.43" r="0.9"/><circle cx="162.53" cy="277.36" r="0.9"/><circle cx="163.55" cy="277.88" r="0.9"/><circle cx="164.57" cy="278.7" r="0.9"/><circle cx="165.59" cy="278.82" r="0.9"/><circle cx="166.61" cy="278.86" r="0.9"/><circle cx="167.63" cy="278.75" r="0.9"/><circle cx="168.65" cy="278.93" r="0.9"/><circle cx="169.67" cy="279.09" r="0.9"/><circle cx="170.69" cy="278.81" r="0.9"/><circle cx="171.71" cy="278.93" r="0.9"/><circle cx="172.73" cy="278.77" r="0.9"/><circle cx="173.75" cy="279.03" r="0.9"/><circle cx="174.77" cy="279.14" r="0.9"/><circle cx="175.79" cy="279.53" r="0.9"/><circle cx="176.81" cy="279.96" r="0.9"/><circle cx="177.83" cy="279.61" r="0.9"/><circle cx="178.85" cy="280.01" r="0.9"/><circle cx="179.87" cy="280.16" r="0.9"/><circle cx="180.89" cy="280.09" r="0.9"/><circle cx="181.91" cy="280.3" r="0.9"/><circle cx="182.93" cy="280.75" r="0.9"/><circle cx="183.95" cy="281.29" r="0.9"/><circle cx="184.97" cy="281.36" r="0.9"/><circle cx="185.99" cy="281.64" r="0.9"/><circle cx="187.01" cy="281.52" r="0.9"/><circle cx="188.03" cy="282.36" r="0.9"/><circle cx="189.05" cy="281.99" r="0.9"/><circle cx="190.07" cy="281.85" r="0.9"/><circle cx="191.09" cy="281.49" r="0.9"/><circle cx="192.11" cy="281.55" r="0.9"/><circle cx="193.13" cy="281.25" r="0.9"/><circle cx="194.15" cy="281.49" r="0.9"/><circle cx="195.17" cy="281.7" r="0.9"/><circle cx="196.19" cy="281.85" r="0.9"/><circle cx="197.21" cy="282.18" r="0.9"/><circle cx="198.23" cy="282.24" r="0.9"/><circle cx="199.25" cy="282.95" r="0.9"/><circle cx="200.27" cy="282.72" r="0.9"/><circle cx="201.29" cy="282.64" r="0.9"/><circle cx="202.31" cy="283.09" r="0.9"/><circle cx="203.33" cy="283.13" r="0.9"/><circle cx="204.35" cy="283.3" r="0.9"/><circle cx="205.37" cy="283.71" r="0.9"/><circle cx="206.39" cy="284.18" r="0.9"/><circle cx="207.41" cy="284.23" r="0.9"/><circle cx="208.43" cy="284.74" r="0.9"/><circle cx="209.45" cy="285.35" r="0.9"/><circle cx="210.47" cy="285.43" r="0.9"/><circle cx="211.49" cy="285.38" r="0.9"/><circle cx="212.51" cy="285.49" r="0.9"/><circle cx="213.53" cy="285.49" r="0.9"/><circle cx="214.55" cy="285.6" r="0.9"/><circle cx="215.57" cy="285.81" r="0.9"/><circle cx="216.59" cy="285.83" r="0.9"/><circle cx="217.61" cy="285.66" r="0.9"/><circle cx="218.63" cy="286.49" r="0.9"/><circle cx="219.65" cy="286.68" r="0.9"/><circle cx="220.67" cy="287.29" r="0.9"/><circle cx="221.69" cy="287.26" r="0.9"/><circle cx="222.71" cy="287.55" r="0.9"/><circle cx="223.73" cy="288.02" r="0.9"/><circle cx="224.75" cy="287.41" r="0.9"/><circle cx="225.77" cy="287.46" r="0.9"/><circle cx="226.79" cy="287.51" r="0.9"/><circle cx="227.81" cy="287.45" r="0.9"/><circle cx="228.83" cy="287.69" r="0.9"/><circle cx="229.85" cy="288.26" r="0.9"/><circle cx="230.87" cy="288.12" r="0.9"/><circle cx="231.89" cy="287.84" r="0.9"/><circle cx="232.91" cy="287.81" r="0.9"/><circle cx="233.93" cy="288.06" r="0.9"/><circle cx="234.95" cy="287.62" r="0.9"/><circle cx="235.97" cy="287.6" r="0.9"/><circle cx="236.99" cy="287.76" r="0.9"/><circle cx="238.01" cy="288.12" r="0.9"/><circle cx="239.03" cy="288.53" r="0.9"/><circle cx="240.05" cy="288.72" r="0.9"/><circle cx="241.07" cy="289.01" r="0.9"/><circle cx="242.09" cy="289.53" r="0.9"/><circle cx="243.11" cy="290.28" r="0.9"/><circle cx="244.13" cy="290.53" r="0.9"/><circle cx="245.15" cy="290.4" r="0.9"/><circle cx="246.17" cy="290.73" r="0.9"/><circle cx="247.19" cy="290.86" r="0.9"/><circle cx="248.21" cy="291.01" r="0.9"/><circle cx="249.23" cy="290.61" r="0.9"/><circle cx="250.25" cy="290.21" r="0.9"/><circle cx="251.27" cy="290.13" r="0.9"/><circle cx="252.29" cy="289.88" r="0.9"/><circle cx="253.31" cy="290.65" r="0.9"/><circle cx="254.33" cy="290.64" r="0.9"/><circle cx="255.35" cy="290.37" r="0.9"/><circle cx="256.37" cy="290.95" r="0.9"/><circle cx="257.39" cy="290.94" r="0.9"/><circle cx="258.41" cy="290.57" r="0.9"/><circle cx="259.43" cy="291.62" r="0.9"/><circle cx="260.45" cy="291.63" r="0.9"/><circle cx="261.47" cy="292.18" r="0.9"/><circle cx="262.49" cy="291.83" r="0.9"/><circle cx="263.51" cy="292.45" r="0.9"/><circle cx="264.53" cy="292.59" r="0.9"/><circle cx="265.55" cy="292.58" r="0.9"/><circle cx="266.57" cy="292.5" r="0.9"/><circle cx="267.59" cy="292.53" r="0.9"/><circle cx="268.61" cy="291.86" r="0.9"/><circle cx="269.63" cy="291.8" r="0.9"/><circle cx="270.65" cy="291.73" r="0.9"/><circle cx="271.67" cy="291.95" r="0.9"/><circle cx="272.69" cy="292.05" r="0.9"/><circle cx="273.71" cy="292.37" r="0.9"/><circle cx="274.73" cy="292.47" r="0.9"/><circle cx="275.75" cy="292.49" r="0.9"/><circle cx="276.77" cy="292.37" r="0.9"/><circle cx="277.79" cy="292.42" r="0.9"/><circle cx="278.81" cy="292.72" r="0.9"/><circle cx="279.83" cy="292.77" r="0.9"/><circle cx="280.85" cy="292.82" r="0.9"/><circle cx="281.87" cy="293.01" r="0.9"/><circle cx="282.89" cy="293.73" r="0.9"/><circle cx="283.91" cy="293.65" r="0.9"/><circle cx="284.93" cy="294.2" r="0.9"/><circle cx="285.95" cy="294.49" r="0.9"/><circle cx="286.97" cy="294.25" r="0.9"/><circle cx="287.99" cy="294.38" r="0.9"/><circle cx="289.01" cy="293.81" r="0.9"/><circle cx="290.03" cy="294" r="0.9"/><circle cx="291.05" cy="293.62" r="0.9"/><circle cx="292.07" cy="293.13" r="0.9"/><circle cx="293.09" cy="293.55" r="0.9"/><circle cx="294.11" cy="293.29" r="0.9"/><circle cx="295.13" cy="293.83" r="0.9"/><circle cx="296.15" cy="293.54" r="0.9"/><circle cx="297.17" cy="293.71" r="0.9"/><circle cx="298.19" cy="293.82" r="0.9"/><circle cx="299.21" cy="293.67" r="0.9"/><circle cx="300.23" cy="293.75" r="0.9"/><circle cx="301.25" cy="293.6" r="0.9"/><circle cx="302.27" cy="293.92" r="0.9"/><circle cx="303.29" cy="293.94" r="0.9"/><circle cx="304.31" cy="294.21" r="0.9"/><circle cx="305.33" cy="293.88" r="0.9"/><circle cx="306.35" cy="294.91" r="0.9"/><circle cx="307.37" cy="294.84" r="0.9"/><circle cx="308.39" cy="294.51" r="0.9"/><circle cx="309.41" cy="294.8" r="0.9"/><circle cx="310.43" cy="294.71" r="0.9"/><circle cx="311.45" cy="294.63" r="0.9"/><circle cx="312.47" cy="294.05" r="0.9"/><circle cx="313.49" cy="294.52" r="0.9"/><circle cx="314.51" cy="294.23" r="0.9"/><circle cx="315.53" cy="294.92" r="0.9"/><circle cx="316.55" cy="294.66" r="0.9"/><circle cx="317.57" cy="295.09" r="0.9"/><circle cx="318.59" cy="295.11" r="0.9"/><circle cx="319.61" cy="295.12" r="0.9"/><circle cx="320.63" cy="295.65" r="0.9"/><circle cx="321.65" cy="295.64" r="0.9"/><circle cx="322.67" cy="295.78" r="0.9"/><circle cx="323.69" cy="295.68" r="0.9"/><circle cx="324.71" cy="295.48" r="0.9"/><circle cx="325.73" cy="295.39" r="0.9"/><circle cx="326.75" cy="295.76" r="0.9"/><circle cx="327.77" cy="295.86" r="0.9"/><circle cx="328.79" cy="295.86" r="0.9"/><circle cx="329.81" cy="296.07" r="0.9"/><circle cx="330.83" cy="295.83" r="0.9"/><circle cx="331.85" cy="295.45" r="0.9"/><circle cx="332.87" cy="295.26" r="0.9"/><circle cx="333.89" cy="294.95" r="0.9"/><circle cx="334.91" cy="294.89" r="0.9"/><circle cx="335.93" cy="294.99" r="0.9"/><circle cx="336.95" cy="295.17" r="0.9"/><circle cx="337.97" cy="295.08" r="0.9"/><circle cx="338.99" cy="295.19" r="0.9"/><circle cx="340.01" cy="296.04" r="0.9"/><circle cx="341.03" cy="295.97" r="0.9"/><circle cx="342.05" cy="296.28" r="0.9"/><circle cx="343.07" cy="295.75" r="0.9"/><circle cx="344.09" cy="296" r="0.9"/><circle cx="345.11" cy="296.12" r="0.9"/><circle cx="346.13" cy="295.94" r="0.9"/><circle cx="347.15" cy="296.29" r="0.9"/><circle cx="348.17" cy="296.75" r="0.9"/><circle cx="349.19" cy="297.03" r="0.9"/><circle cx="350.21" cy="297.31" r="0.9"/><circle cx="351.23" cy="296.92" r="0.9"/><circle cx="352.25" cy="296.82" r="0.9"/><circle cx="353.27" cy="297.13" r="0.9"/><circle cx="354.29" cy="297.11" r="0.9"/><circle cx="355.31" cy="296.88" r="0.9"/><circle cx="356.33" cy="296.59" r="0.9"/><circle cx="357.35" cy="297.12" r="0.9"/><circle cx="358.37" cy="297.37" r="0.9"/><circle cx="359.39" cy="297.66" r="0.9"/><circle cx="360.41" cy="297.78" r="0.9"/><circle cx="361.43" cy="298.22" r="0.9"/><circle cx="362.45" cy="298.5" r="0.9"/><circle cx="363.47" cy="298.31" r="0.9"/><circle cx="364.49" cy="298.02" r="0.9"/><circle cx="365.51" cy="298.34" r="0.9"/><circle cx="366.53" cy="298.23" r="0.9"/><circle cx="367.55" cy="298.02" r="0.9"/><circle cx="368.57" cy="298.15" r="0.9"/><circle cx="369.59" cy="297.87" r="0.9"/><circle cx="370.61" cy="298.04" r="0.9"/><circle cx="371.63" cy="298.08" r="0.9"/><circle cx="372.65" cy="298.3" r="0.9"/><circle cx="373.67" cy="298.51" r="0.9"/><circle cx="374.69" cy="298.08" r="0.9"/><circle cx="375.71" cy="298.46" r="0.9"/><circle cx="376.73" cy="298.3" r="0.9"/><circle cx="377.75" cy="298.21" r="0.9"/><circle cx="378.77" cy="298.39" r="0.9"/><circle cx="379.79" cy="298.97" r="0.9"/><circle cx="380.81" cy="299.01" r="0.9"/><circle cx="381.83" cy="299.49" r="0.9"/><circle cx="382.85" cy="299.74" r="0.9"/><circle cx="383.87" cy="300.4" r="0.9"/><circle cx="384.89" cy="300.79" r="0.9"/><circle cx="385.91" cy="300.71" r="0.9"/><circle cx="386.93" cy="300.67" r="0.9"/><circle cx="387.95" cy="300.47" r="0.9"/><circle cx="388.97" cy="300.48" r="0.9"/><circle cx="389.99" cy="300.15" r="0.9"/><circle cx="391.01" cy="300.72" r="0.9"/><circle cx="392.03" cy="300.57" r="0.9"/><circle cx="393.05" cy="300.6" r="0.9"/><circle cx="394.07" cy="300.81" r="0.9"/><circle cx="395.09" cy="300.9" r="0.9"/><circle cx="396.11" cy="301.29" r="0.9"/><circle cx="397.13" cy="301.33" r="0.9"/><circle cx="398.15" cy="300.85" r="0.9"/><circle cx="399.17" cy="301.35" r="0.9"/><circle cx="400.19" cy="301.46" r="0.9"/><circle cx="401.21" cy="301.39" r="0.9"/><circle cx="402.23" cy="301.51" r="0.9"/><circle cx="403.25" cy="302" r="0.9"/><circle cx="404.27" cy="302.3" r="0.9"/><circle cx="405.29" cy="302.67" r="0.9"/><circle cx="406.31" cy="302.59" r="0.9"/><circle cx="407.33" cy="302.18" r="0.9"/><circle cx="408.35" cy="302.47" r="0.9"/><circle cx="409.37" cy="301.9" r="0.9"/><circle cx="410.39" cy="302.19" r="0.9"/><circle cx="411.41" cy="301.65" r="0.9"/><circle cx="412.43" cy="301.75" r="0.9"/><circle cx="413.45" cy="301.82" r="0.9"/><circle cx="414.47" cy="302.08" r="0.9"/><circle cx="415.49" cy="302.9" r="0.9"/><circle cx="416.51" cy="303.23" r="0.9"/><circle cx="417.53" cy="303.55" r="0.9"/><circle cx="418.55" cy="303.81" r="0.9"/><circle cx="419.57" cy="303.7" r="0.9"/><circle cx="420.59" cy="304.17" r="0.9"/><circle cx="421.61" cy="304.43" r="0.9"/><circle cx="422.63" cy="304.66" r="0.9"/><circle cx="423.65" cy="305.33" r="0.9"/><circle cx="424.67" cy="305.49" r="0.9"/><circle cx="425.69" cy="305.88" r="0.9"/><circle cx="426.71" cy="306.12" r="0.9"/><circle cx="427.73" cy="306.03" r="0.9"/><circle cx="428.75" cy="306.16" r="0.9"/><circle cx="429.77" cy="305.8" r="0.9"/><circle cx="430.79" cy="305.01" r="0.9"/><circle cx="431.81" cy="304.23" r="0.9"/><circle cx="432.83" cy="303.42" r="0.9"/><circle cx="433.85" cy="303.65" r="0.9"/><circle cx="434.87" cy="304.19" r="0.9"/><circle cx="435.89" cy="304.58" r="0.9"/><circle cx="436.91" cy="305.33" r="0.9"/><circle cx="437.93" cy="306.06" r="0.9"/><circle cx="438.95" cy="306.57" r="0.9"/><circle cx="439.97" cy="306.77" r="0.9"/><circle cx="440.99" cy="307.33" r="0.9"/><circle cx="442.01" cy="307.09" r="0.9"/><circle cx="443.03" cy="306.45" r="0.9"/><circle cx="444.05" cy="306.55" r="0.9"/><circle cx="445.07" cy="306.28" r="0.9"/><circle cx="446.09" cy="306.52" r="0.9"/><circle cx="447.11" cy="306.66" r="0.9"/><circle cx="448.13" cy="306.53" r="0.9"/><circle cx="449.15" cy="306.45" r="0.9"/><circle cx="450.17" cy="307.13" r="0.9"/><circle cx="451.19" cy="306.86" r="0.9"/><circle cx="452.21" cy="306.95" r="0.9"/><circle cx="453.23" cy="306.26" r="0.9"/><circle cx="454.25" cy="306.68" r="0.9"/><circle cx="455.27" cy="306.94" r="0.9"/><circle cx="456.29" cy="307.11" r="0.9"/><circle cx="457.31" cy="306.95" r="0.9"/><circle cx="458.33" cy="307.4" r="0.9"/><circle cx="459.35" cy="307.65" r="0.9"/><circle cx="460.37" cy="308.15" r="0.9"/><circle cx="461.39" cy="308.32" r="0.9"/><circle cx="462.41" cy="308.2" r="0.9"/><circle cx="463.43" cy="307.89" r="0.9"/><circle cx="464.45" cy="308.25" r="0.9"/><circle cx="465.47" cy="307.96" r="0.9"/><circle cx="466.49" cy="308.17" r="0.9"/><circle cx="467.51" cy="308.16" r="0.9"/><circle cx="468.53" cy="308.52" r="0.9"/><circle cx="469.55" cy="308.51" r="0.9"/><circle cx="470.57" cy="308.24" r="0.9"/><circle cx="471.59" cy="308.38" r="0.9"/><circle cx="472.61" cy="308.57" r="0.9"/><circle cx="473.63" cy="307.99" r="0.9"/><circle cx="474.65" cy="308.07" r="0.9"/><circle cx="475.67" cy="308.17" r="0.9"/><circle cx="476.69" cy="308.26" r="0.9"/><circle cx="477.71" cy="308.32" r="0.9"/><circle cx="478.73" cy="308.28" r="0.9"/><circle cx="479.75" cy="308.69" r="0.9"/><circle cx="480.77" cy="309.38" r="0.9"/><circle cx="481.79" cy="309.74" r="0.9"/><circle cx="482.81" cy="310.45" r="0.9"/><circle cx="483.83" cy="309.97" r="0.9"/><circle cx="484.85" cy="310.46" r="0.9"/><circle cx="485.87" cy="310.42" r="0.9"/><circle cx="486.89" cy="309.95" r="0.9"/><circle cx="487.91" cy="310.19" r="0.9"/><circle cx="488.93" cy="310.52" r="0.9"/><circle cx="489.95" cy="310.58" r="0.9"/><circle cx="490.97" cy="310.86" r="0.9"/><circle cx="491.99" cy="311.18" r="0.9"/><circle cx="493.01" cy="311.08" r="0.9"/><circle cx="494.03" cy="311.41" r="0.9"/><circle cx="495.05" cy="311.23" r="0.9"/><circle cx="496.07" cy="311.26" r="0.9"/><circle cx="497.09" cy="311.54" r="0.9"/><circle cx="498.11" cy="311.45" r="0.9"/><circle cx="499.13" cy="311.83" r="0.9"/><circle cx="500.15" cy="312.36" r="0.9"/><circle cx="501.17" cy="312.38" r="0.9"/><circle cx="502.19" cy="312.67" r="0.9"/><circle cx="503.21" cy="313.11" r="0.9"/><circle cx="504.23" cy="313.05" r="0.9"/><circle cx="505.25" cy="313.37" r="0.9"/><circle cx="506.27" cy="312.81" r="0.9"/><circle cx="507.29" cy="313.04" r="0.9"/><circle cx="508.31" cy="312.67" r="0.9"/><circle cx="509.33" cy="312.52" r="0.9"/><circle cx="510.35" cy="313.04" r="0.9"/><circle cx="511.37" cy="312.73" r="0.9"/><circle cx="512.39" cy="313.54" r="0.9"/><circle cx="513.41" cy="313.65" r="0.9"/><circle cx="514.43" cy="314.12" r="0.9"/><circle cx="515.45" cy="313.9" r="0.9"/><circle cx="516.47" cy="314.56" r="0.9"/><circle cx="517.49" cy="314.79" r="0.9"/><circle cx="518.51" cy="314.67" r="0.9"/><circle cx="519.53" cy="314.91" r="0.9"/><circle cx="520.55" cy="315.75" r="0.9"/><circle cx="521.57" cy="315.7" r="0.9"/><circle cx="522.59" cy="316.2" r="0.9"/><circle cx="523.61" cy="316.91" r="0.9"/><circle cx="524.63" cy="317.8" r="0.9"/><circle cx="525.65" cy="318.34" r="0.9"/><circle cx="526.67" cy="318.74" r="0.9"/><circle cx="527.69" cy="319.35" r="0.9"/><circle cx="528.71" cy="319.16" r="0.9"/><circle cx="529.73" cy="318.74" r="0.9"/><circle cx="530.75" cy="318.07" r="0.9"/><circle cx="531.77" cy="316.82" r="0.9"/><circle cx="532.79" cy="316.58" r="0.9"/><circle cx="533.81" cy="315.88" r="0.9"/><circle cx="534.83" cy="314.45" r="0.9"/><circle cx="535.85" cy="313.71" r="0.9"/><circle cx="536.87" cy="313.71" r="0.9"/><circle cx="537.89" cy="313.82" r="0.9"/><circle cx="538.91" cy="314.5" r="0.9"/><circle cx="539.93" cy="314.24" r="0.9"/><circle cx="540.95" cy="314.93" r="0.9"/><circle cx="541.97" cy="315.4" r="0.9"/><circle cx="542.99" cy="315.13" r="0.9"/><circle cx="544.01" cy="315.88" r="0.9"/><circle cx="545.03" cy="316.08" r="0.9"/><circle cx="546.05" cy="317.1" r="0.9"/><circle cx="547.07" cy="317.19" r="0.9"/><circle cx="548.09" cy="317.57" r="0.9"/><circle cx="549.11" cy="317.81" r="0.9"/><circle cx="550.13" cy="318.02" r="0.9"/><circle cx="551.15" cy="317.86" r="0.9"/><circle cx="552.17" cy="318.01" r="0.9"/><circle cx="553.19" cy="318.07" r="0.9"/><circle cx="554.21" cy="318.51" r="0.9"/><circle cx="555.23" cy="318.68" r="0.9"/><circle cx="556.25" cy="319.42" r="0.9"/><circle cx="557.27" cy="319.53" r="0.9"/><circle cx="558.29" cy="320.27" r="0.9"/><circle cx="559.31" cy="321.13" r="0.9"/><circle cx="560.33" cy="321.04" r="0.9"/><circle cx="561.35" cy="320.99" r="0.9"/><circle cx="562.37" cy="321.47" r="0.9"/><circle cx="563.39" cy="321.42" r="0.9"/><circle cx="564.41" cy="321.49" r="0.9"/><circle cx="565.43" cy="321.82" r="0.9"/><circle cx="566.45" cy="322.3" r="0.9"/><circle cx="567.47" cy="322.39" r="0.9"/><circle cx="568.49" cy="322.4" r="0.9"/><circle cx="569.51" cy="322.26" r="0.9"/><circle cx="570.53" cy="322.16" r="0.9"/><circle cx="571.55" cy="322.52" r="0.9"/><circle cx="572.57" cy="322.16" r="0.9"/><circle cx="573.59" cy="321.84" r="0.9"/><circle cx="574.61" cy="321.64" r="0.9"/><circle cx="575.63" cy="321.97" r="0.9"/><circle cx="576.65" cy="323.04" r="0.9"/><circle cx="577.67" cy="322.72" r="0.9"/><circle cx="578.69" cy="323.36" r="0.9"/><circle cx="579.71" cy="323.81" r="0.9"/><circle cx="580.73" cy="324.04" r="0.9"/></g>
<path d="M280,247.8 H301" stroke="#111" stroke-width="1.2"/>
<path d="M299,245 L306,247.8 L299,250.6 L300.5,247.8 Z" fill="#111"/>
<rect x="61.2" y="214" width="532.0" height="145.2" fill="none" stroke="#111" stroke-width="1.45"/>
<path d="M71.75,359.2 v2.3 M71.75,214 v1.8 M174.04,359.2 v2.3 M174.04,214 v1.8 M276.33,359.2 v2.3 M276.33,214 v1.8 M378.62,359.2 v2.3 M378.62,214 v1.8 M480.91,359.2 v2.3 M480.91,214 v1.8 M583.2,359.2 v2.3 M583.2,214 v1.8 M122.89,359.2 v1.4 M122.89,214 v1.4 M225.19,359.2 v1.4 M225.19,214 v1.4 M327.47,359.2 v1.4 M327.47,214 v1.4 M429.76,359.2 v1.4 M429.76,214 v1.4 M532.05,359.2 v1.4 M532.05,214 v1.4 M61.2,356.6 h-2.2 M61.2,326.83 h-2.2 M61.2,297.05 h-2.2 M61.2,267.28 h-2.2 M61.2,237.5 h-2.2 M61.2,341.71 h-1.3 M61.2,311.94 h-1.3 M61.2,282.16 h-1.3 M61.2,252.39 h-1.3 M61.2,222.61 h-1.3 M593.2,334.19 h2.4 M593.2,296.13 h2.4 M593.2,258.06 h2.4 M593.2,220 h2.4 M593.2,315.16 h1.4 M593.2,277.1 h1.4 M593.2,239.03 h1.4" stroke="#1a1a1a" stroke-width="1.1"/>
<text x="57.0" y="360.1" font-family="Liberation Sans" font-weight="bold" font-size="10" text-anchor="end" fill="#1a1a1a">0</text>
<text x="57.0" y="330.33" font-family="Liberation Sans" font-weight="bold" font-size="10" text-anchor="end" fill="#1a1a1a">50</text>
<text x="57.0" y="300.55" font-family="Liberation Sans" font-weight="bold" font-size="10" text-anchor="end" fill="#1a1a1a">100</text>
<text x="57.0" y="270.78" font-family="Liberation Sans" font-weight="bold" font-size="10" text-anchor="end" fill="#1a1a1a">150</text>
<text x="57.0" y="241" font-family="Liberation Sans" font-weight="bold" font-size="10" text-anchor="end" fill="#1a1a1a">200</text>
<text x="72.25" y="371.8" font-family="Liberation Sans" font-weight="bold" font-size="9.9" text-anchor="middle" fill="#1a1a1a">0</text>
<text x="174.54" y="371.8" font-family="Liberation Sans" font-weight="bold" font-size="9.9" text-anchor="middle" fill="#1a1a1a">100</text>
<text x="276.83" y="371.8" font-family="Liberation Sans" font-weight="bold" font-size="9.9" text-anchor="middle" fill="#1a1a1a">200</text>
<text x="379.12" y="371.8" font-family="Liberation Sans" font-weight="bold" font-size="9.9" text-anchor="middle" fill="#1a1a1a">300</text>
<text x="481.41" y="371.8" font-family="Liberation Sans" font-weight="bold" font-size="9.9" text-anchor="middle" fill="#1a1a1a">400</text>
<text x="583.7" y="371.8" font-family="Liberation Sans" font-weight="bold" font-size="9.9" text-anchor="middle" fill="#1a1a1a">500</text>
<text x="597.4" y="336.99" font-family="Liberation Sans" font-weight="bold" font-size="7.8" fill="#1a1a1a">84</text>
<text x="597.4" y="298.93" font-family="Liberation Sans" font-weight="bold" font-size="7.8" fill="#1a1a1a">90</text>
<text x="597.4" y="260.86" font-family="Liberation Sans" font-weight="bold" font-size="7.8" fill="#1a1a1a">96</text>
<text x="597.4" y="222.8" font-family="Liberation Sans" font-weight="bold" font-size="7.8" fill="#1a1a1a">102</text>
<text x="282.9" y="388" font-family="Liberation Sans" font-weight="bold" font-size="13.2" textLength="88.8" lengthAdjust="spacingAndGlyphs" fill="#1a1a1a">Cycle number</text>
<text transform="translate(34.4,339.0) rotate(-90)" font-family="Liberation Sans" font-weight="bold" font-size="13.5" fill="#1a1a1a">Capacity (mAh g<tspan font-size="7.2" dy="-6.6">-1</tspan><tspan dy="6.6">)</tspan></text>
<text transform="translate(626.6,355.3) rotate(-90)" font-family="Liberation Sans" font-weight="bold" font-size="13.3" textLength="154" lengthAdjust="spacingAndGlyphs" fill="#1a1a1a">Coulombic efficency (%)</text>
<text x="9.4" y="202.8" font-family="Liberation Sans" font-weight="bold" font-size="21.5" fill="#111">b</text>
<circle cx="439.8" cy="270.3" r="2.5" fill="#2F8783"/>
<circle cx="439.8" cy="282.8" r="2.5" fill="#E8823A"/>
<circle cx="465.6" cy="270.3" r="2.2" fill="#fff" stroke="#9CB8B6" stroke-width="0.8"/>
<circle cx="465.6" cy="282.8" r="2.2" fill="#fff" stroke="#E0C0A4" stroke-width="0.8"/>
<text x="480.2" y="274.4" font-family="Liberation Sans" font-weight="bold" font-size="10" textLength="66.7" lengthAdjust="spacingAndGlyphs" fill="#3A8F8B" xml:space="preserve">Armored  MCI</text>
<text x="480.2" y="286.8" font-family="Liberation Sans" font-weight="bold" font-size="10" textLength="56.8" lengthAdjust="spacingAndGlyphs" fill="#E8894A">Routine SEI</text></svg>
</body></html>
